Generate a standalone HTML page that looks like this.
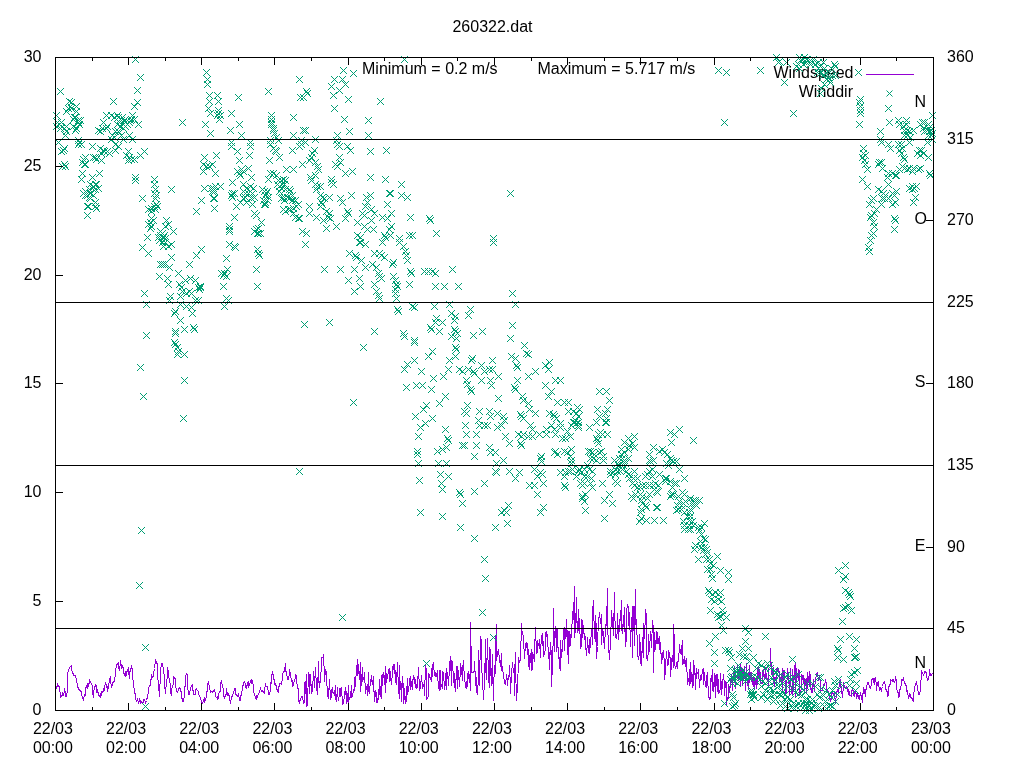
<!DOCTYPE html>
<html><head><meta charset="utf-8"><title>260322.dat</title>
<style>html,body{margin:0;padding:0;background:#fff;width:1024px;height:768px;overflow:hidden}</style></head>
<body>
<svg width="1024" height="768" viewBox="0 0 1024 768" style="position:absolute;left:0;top:0;will-change:transform">
<rect width="1024" height="768" fill="#fff"/>
<polyline fill="none" stroke="#9400D3" stroke-width="1" shape-rendering="crispEdges" stroke-linejoin="miter" points="55.5,687.5 56.5,687.5 56.5,688.5 57.5,684.5 57.5,683.5 58.5,686.5 59.5,686.5 59.5,690.5 60.5,693.5 60.5,697.5 61.5,695.5 62.5,695.5 62.5,692.5 63.5,694.5 64.5,691.5 64.5,688.5 65.5,694.5 65.5,696.5 66.5,696.5 67.5,690.5 67.5,675.5 68.5,669.5 68.5,670.5 69.5,667.5 70.5,666.5 70.5,666.5 71.5,665.5 71.5,670.5 72.5,671.5 73.5,675.5 73.5,674.5 74.5,675.5 75.5,675.5 75.5,677.5 76.5,678.5 76.5,679.5 77.5,686.5 78.5,688.5 78.5,689.5 79.5,690.5 79.5,689.5 80.5,690.5 81.5,692.5 81.5,692.5 82.5,698.5 82.5,697.5 83.5,699.5 84.5,694.5 84.5,696.5 85.5,694.5 85.5,688.5 86.5,686.5 87.5,688.5 87.5,683.5 88.5,685.5 89.5,681.5 89.5,679.5 90.5,682.5 90.5,682.5 91.5,683.5 92.5,686.5 92.5,692.5 93.5,697.5 93.5,693.5 94.5,687.5 95.5,685.5 95.5,684.5 96.5,686.5 96.5,692.5 97.5,690.5 98.5,694.5 98.5,695.5 99.5,695.5 100.5,697.5 100.5,693.5 101.5,695.5 101.5,691.5 102.5,692.5 103.5,690.5 103.5,688.5 104.5,690.5 104.5,687.5 105.5,682.5 106.5,687.5 106.5,684.5 107.5,687.5 107.5,691.5 108.5,686.5 109.5,679.5 109.5,680.5 110.5,676.5 110.5,680.5 111.5,686.5 112.5,684.5 112.5,683.5 113.5,681.5 114.5,681.5 114.5,680.5 115.5,673.5 115.5,670.5 116.5,665.5 117.5,663.5 117.5,663.5 118.5,662.5 118.5,667.5 119.5,670.5 120.5,662.5 120.5,660.5 121.5,667.5 121.5,668.5 122.5,666.5 123.5,668.5 123.5,672.5 124.5,674.5 125.5,671.5 125.5,676.5 126.5,675.5 126.5,672.5 127.5,670.5 128.5,667.5 128.5,670.5 129.5,678.5 129.5,671.5 130.5,671.5 131.5,665.5 131.5,665.5 132.5,671.5 132.5,676.5 133.5,682.5 134.5,693.5 134.5,692.5 135.5,694.5 135.5,698.5 136.5,701.5 137.5,700.5 137.5,698.5 138.5,703.5 139.5,699.5 139.5,699.5 140.5,701.5 140.5,703.5 141.5,701.5 142.5,702.5 142.5,702.5 143.5,702.5 143.5,699.5 144.5,699.5 145.5,702.5 145.5,702.5 146.5,700.5 146.5,700.5 147.5,696.5 148.5,691.5 148.5,688.5 149.5,685.5 150.5,685.5 150.5,680.5 151.5,678.5 151.5,674.5 152.5,677.5 153.5,676.5 153.5,674.5 154.5,668.5 154.5,668.5 155.5,659.5 156.5,662.5 156.5,662.5 157.5,664.5 157.5,674.5 158.5,684.5 159.5,696.5 159.5,690.5 160.5,678.5 160.5,671.5 161.5,663.5 162.5,663.5 162.5,664.5 163.5,669.5 164.5,678.5 164.5,684.5 165.5,693.5 165.5,690.5 166.5,683.5 167.5,675.5 167.5,667.5 168.5,672.5 168.5,675.5 169.5,679.5 170.5,686.5 170.5,691.5 171.5,695.5 171.5,690.5 172.5,685.5 173.5,684.5 173.5,676.5 174.5,678.5 175.5,678.5 175.5,686.5 176.5,689.5 176.5,691.5 177.5,692.5 178.5,689.5 178.5,688.5 179.5,688.5 179.5,687.5 180.5,689.5 181.5,693.5 181.5,698.5 182.5,698.5 182.5,701.5 183.5,701.5 184.5,694.5 184.5,687.5 185.5,685.5 185.5,676.5 186.5,673.5 187.5,674.5 187.5,684.5 188.5,694.5 189.5,694.5 189.5,693.5 190.5,688.5 190.5,688.5 191.5,685.5 192.5,684.5 192.5,688.5 193.5,692.5 193.5,694.5 194.5,694.5 195.5,694.5 195.5,689.5 196.5,688.5 196.5,689.5 197.5,690.5 198.5,691.5 198.5,693.5 199.5,696.5 200.5,697.5 200.5,697.5 201.5,702.5 201.5,704.5 202.5,703.5 203.5,700.5 203.5,699.5 204.5,702.5 204.5,697.5 205.5,699.5 206.5,696.5 206.5,691.5 207.5,691.5 207.5,684.5 208.5,682.5 209.5,686.5 209.5,686.5 210.5,692.5 210.5,690.5 211.5,691.5 212.5,691.5 212.5,692.5 213.5,690.5 214.5,689.5 214.5,690.5 215.5,693.5 215.5,696.5 216.5,697.5 217.5,696.5 217.5,699.5 218.5,697.5 218.5,693.5 219.5,692.5 220.5,690.5 220.5,683.5 221.5,680.5 221.5,680.5 222.5,686.5 223.5,689.5 223.5,694.5 224.5,698.5 225.5,694.5 225.5,695.5 226.5,694.5 226.5,688.5 227.5,695.5 228.5,695.5 228.5,693.5 229.5,696.5 229.5,699.5 230.5,702.5 231.5,697.5 231.5,696.5 232.5,696.5 232.5,694.5 233.5,693.5 234.5,688.5 234.5,690.5 235.5,688.5 235.5,693.5 236.5,695.5 237.5,695.5 237.5,696.5 238.5,694.5 239.5,699.5 239.5,700.5 240.5,700.5 240.5,696.5 241.5,694.5 242.5,687.5 242.5,686.5 243.5,684.5 243.5,682.5 244.5,681.5 245.5,684.5 245.5,686.5 246.5,688.5 246.5,686.5 247.5,683.5 248.5,687.5 248.5,681.5 249.5,685.5 250.5,680.5 250.5,681.5 251.5,683.5 251.5,679.5 252.5,681.5 253.5,686.5 253.5,691.5 254.5,694.5 254.5,694.5 255.5,697.5 256.5,695.5 256.5,699.5 257.5,695.5 257.5,695.5 258.5,694.5 259.5,691.5 259.5,691.5 260.5,688.5 260.5,688.5 261.5,691.5 262.5,691.5 262.5,690.5 263.5,692.5 264.5,693.5 264.5,690.5 265.5,683.5 265.5,685.5 266.5,686.5 267.5,686.5 267.5,689.5 268.5,690.5 268.5,694.5 269.5,694.5 270.5,690.5 270.5,682.5 271.5,683.5 271.5,676.5 272.5,671.5 273.5,677.5 273.5,678.5 274.5,680.5 274.5,684.5 275.5,683.5 276.5,687.5 276.5,687.5 277.5,691.5 278.5,692.5 278.5,686.5 279.5,686.5 279.5,683.5 280.5,683.5 281.5,684.5 281.5,683.5 282.5,678.5 282.5,674.5 283.5,671.5 284.5,671.5 284.5,670.5 285.5,663.5 285.5,670.5 286.5,672.5 287.5,678.5 287.5,679.5 288.5,679.5 289.5,673.5 289.5,669.5 290.5,673.5 290.5,673.5 291.5,681.5 292.5,680.5 292.5,686.5 293.5,685.5 293.5,682.5 294.5,681.5 295.5,677.5 295.5,674.5 296.5,676.5 296.5,682.5 297.5,685.5 298.5,691.5 298.5,699.5 299.5,703.5 299.5,700.5 300.5,700.5 301.5,696.5 301.5,696.5 302.5,696.5 303.5,703.5 303.5,701.5 304.5,702.5 304.5,683.5 305.5,681.5 306.5,706.5 306.5,674.5 307.5,705.5 307.5,703.5 308.5,672.5 309.5,676.5 309.5,693.5 310.5,678.5 310.5,674.5 311.5,693.5 312.5,681.5 312.5,691.5 313.5,671.5 314.5,679.5 314.5,687.5 315.5,667.5 315.5,669.5 316.5,686.5 317.5,694.5 317.5,694.5 318.5,661.5 318.5,677.5 319.5,687.5 320.5,675.5 320.5,682.5 321.5,661.5 321.5,657.5 322.5,657.5 323.5,658.5 323.5,654.5 324.5,677.5 324.5,681.5 325.5,669.5 326.5,673.5 326.5,676.5 327.5,695.5 328.5,697.5 328.5,697.5 329.5,679.5 329.5,680.5 330.5,699.5 331.5,689.5 331.5,697.5 332.5,687.5 332.5,691.5 333.5,693.5 334.5,692.5 334.5,695.5 335.5,685.5 335.5,698.5 336.5,701.5 337.5,687.5 337.5,693.5 338.5,700.5 339.5,693.5 339.5,688.5 340.5,688.5 340.5,696.5 341.5,687.5 342.5,704.5 342.5,702.5 343.5,699.5 343.5,703.5 344.5,695.5 345.5,687.5 345.5,694.5 346.5,691.5 346.5,703.5 347.5,700.5 348.5,685.5 348.5,702.5 349.5,697.5 349.5,697.5 350.5,697.5 351.5,685.5 351.5,697.5 352.5,696.5 353.5,689.5 353.5,691.5 354.5,689.5 354.5,677.5 355.5,686.5 356.5,665.5 356.5,671.5 357.5,675.5 357.5,659.5 358.5,668.5 359.5,679.5 359.5,679.5 360.5,662.5 360.5,691.5 361.5,681.5 362.5,667.5 362.5,681.5 363.5,678.5 364.5,676.5 364.5,672.5 365.5,693.5 365.5,684.5 366.5,688.5 367.5,691.5 367.5,695.5 368.5,672.5 368.5,689.5 369.5,693.5 370.5,679.5 370.5,684.5 371.5,675.5 371.5,678.5 372.5,684.5 373.5,676.5 373.5,681.5 374.5,701.5 374.5,691.5 375.5,690.5 376.5,702.5 376.5,692.5 377.5,702.5 378.5,694.5 378.5,699.5 379.5,679.5 379.5,692.5 380.5,696.5 381.5,675.5 381.5,698.5 382.5,674.5 382.5,683.5 383.5,672.5 384.5,681.5 384.5,684.5 385.5,666.5 385.5,692.5 386.5,674.5 387.5,676.5 387.5,678.5 388.5,670.5 389.5,668.5 389.5,681.5 390.5,679.5 390.5,671.5 391.5,684.5 392.5,671.5 392.5,666.5 393.5,669.5 393.5,664.5 394.5,664.5 395.5,682.5 395.5,670.5 396.5,684.5 396.5,682.5 397.5,662.5 398.5,691.5 398.5,693.5 399.5,665.5 399.5,698.5 400.5,681.5 401.5,684.5 401.5,701.5 402.5,676.5 403.5,688.5 403.5,703.5 404.5,697.5 404.5,688.5 405.5,703.5 406.5,700.5 406.5,693.5 407.5,678.5 407.5,694.5 408.5,689.5 409.5,682.5 409.5,678.5 410.5,689.5 410.5,676.5 411.5,684.5 412.5,689.5 412.5,682.5 413.5,675.5 414.5,683.5 414.5,677.5 415.5,687.5 415.5,679.5 416.5,688.5 417.5,687.5 417.5,682.5 418.5,669.5 418.5,667.5 419.5,689.5 420.5,687.5 420.5,684.5 421.5,678.5 421.5,675.5 422.5,688.5 423.5,684.5 423.5,685.5 424.5,688.5 424.5,695.5 425.5,665.5 426.5,670.5 426.5,699.5 427.5,697.5 428.5,696.5 428.5,673.5 429.5,674.5 429.5,676.5 430.5,678.5 431.5,681.5 431.5,668.5 432.5,676.5 432.5,665.5 433.5,663.5 434.5,675.5 434.5,673.5 435.5,676.5 435.5,672.5 436.5,675.5 437.5,670.5 437.5,675.5 438.5,686.5 439.5,690.5 439.5,670.5 440.5,670.5 440.5,689.5 441.5,684.5 442.5,688.5 442.5,671.5 443.5,677.5 443.5,672.5 444.5,689.5 445.5,673.5 445.5,681.5 446.5,689.5 446.5,668.5 447.5,675.5 448.5,681.5 448.5,685.5 449.5,667.5 449.5,665.5 450.5,656.5 451.5,685.5 451.5,660.5 452.5,661.5 453.5,679.5 453.5,678.5 454.5,687.5 454.5,673.5 455.5,691.5 456.5,666.5 456.5,670.5 457.5,688.5 457.5,666.5 458.5,673.5 459.5,686.5 459.5,684.5 460.5,669.5 460.5,663.5 461.5,669.5 462.5,680.5 462.5,669.5 463.5,660.5 464.5,680.5 464.5,675.5 465.5,687.5 465.5,687.5 466.5,688.5 467.5,673.5 467.5,686.5 468.5,671.5 468.5,673.5 469.5,675.5 470.5,690.5 470.5,622.5 471.5,668.5 471.5,672.5 472.5,672.5 473.5,671.5 473.5,672.5 474.5,671.5 474.5,661.5 475.5,679.5 476.5,692.5 476.5,677.5 477.5,694.5 478.5,676.5 478.5,650.5 479.5,681.5 479.5,685.5 480.5,636.5 481.5,641.5 481.5,670.5 482.5,675.5 482.5,679.5 483.5,699.5 484.5,680.5 484.5,688.5 485.5,639.5 485.5,666.5 486.5,679.5 487.5,638.5 487.5,640.5 488.5,678.5 489.5,687.5 489.5,647.5 490.5,675.5 490.5,649.5 491.5,685.5 492.5,681.5 492.5,654.5 493.5,700.5 493.5,689.5 494.5,665.5 495.5,673.5 495.5,648.5 496.5,624.5 496.5,660.5 497.5,653.5 498.5,649.5 498.5,651.5 499.5,658.5 499.5,659.5 500.5,666.5 501.5,653.5 501.5,670.5 502.5,666.5 503.5,676.5 503.5,677.5 504.5,680.5 504.5,683.5 505.5,684.5 506.5,676.5 506.5,674.5 507.5,681.5 507.5,685.5 508.5,675.5 509.5,675.5 509.5,665.5 510.5,687.5 510.5,693.5 511.5,673.5 512.5,662.5 512.5,663.5 513.5,672.5 514.5,664.5 514.5,695.5 515.5,652.5 515.5,665.5 516.5,700.5 517.5,685.5 517.5,688.5 518.5,659.5 518.5,657.5 519.5,662.5 520.5,658.5 520.5,659.5 521.5,623.5 521.5,628.5 522.5,633.5 523.5,636.5 523.5,639.5 524.5,658.5 524.5,657.5 525.5,644.5 526.5,642.5 526.5,647.5 527.5,643.5 528.5,666.5 528.5,649.5 529.5,659.5 529.5,669.5 530.5,657.5 531.5,649.5 531.5,670.5 532.5,669.5 532.5,652.5 533.5,655.5 534.5,661.5 534.5,645.5 535.5,633.5 535.5,627.5 536.5,653.5 537.5,651.5 537.5,640.5 538.5,645.5 539.5,646.5 539.5,639.5 540.5,657.5 540.5,650.5 541.5,637.5 542.5,633.5 542.5,645.5 543.5,641.5 543.5,656.5 544.5,653.5 545.5,648.5 545.5,632.5 546.5,631.5 546.5,636.5 547.5,634.5 548.5,658.5 548.5,647.5 549.5,655.5 549.5,669.5 550.5,642.5 551.5,657.5 551.5,686.5 552.5,663.5 553.5,629.5 553.5,608.5 554.5,651.5 554.5,651.5 555.5,626.5 556.5,632.5 556.5,651.5 557.5,629.5 557.5,646.5 558.5,648.5 559.5,668.5 559.5,657.5 560.5,670.5 560.5,640.5 561.5,657.5 562.5,641.5 562.5,651.5 563.5,628.5 564.5,650.5 564.5,627.5 565.5,638.5 565.5,636.5 566.5,619.5 567.5,654.5 567.5,630.5 568.5,632.5 568.5,663.5 569.5,631.5 570.5,636.5 570.5,645.5 571.5,626.5 571.5,637.5 572.5,611.5 573.5,619.5 573.5,619.5 574.5,586.5 574.5,637.5 575.5,628.5 576.5,597.5 576.5,613.5 577.5,632.5 578.5,609.5 578.5,630.5 579.5,628.5 579.5,618.5 580.5,648.5 581.5,645.5 581.5,619.5 582.5,637.5 582.5,620.5 583.5,628.5 584.5,639.5 584.5,633.5 585.5,638.5 585.5,644.5 586.5,655.5 587.5,640.5 587.5,637.5 588.5,652.5 589.5,639.5 589.5,653.5 590.5,642.5 590.5,644.5 591.5,629.5 592.5,644.5 592.5,612.5 593.5,600.5 593.5,604.5 594.5,636.5 595.5,641.5 595.5,615.5 596.5,630.5 596.5,658.5 597.5,646.5 598.5,617.5 598.5,620.5 599.5,615.5 599.5,612.5 600.5,623.5 601.5,614.5 601.5,644.5 602.5,628.5 603.5,633.5 603.5,640.5 604.5,645.5 604.5,648.5 605.5,626.5 606.5,622.5 606.5,625.5 607.5,588.5 607.5,623.5 608.5,645.5 609.5,659.5 609.5,653.5 610.5,646.5 610.5,644.5 611.5,610.5 612.5,622.5 612.5,620.5 613.5,635.5 614.5,592.5 614.5,617.5 615.5,624.5 615.5,637.5 616.5,638.5 617.5,629.5 617.5,613.5 618.5,635.5 618.5,639.5 619.5,624.5 620.5,614.5 620.5,620.5 621.5,600.5 621.5,628.5 622.5,633.5 623.5,615.5 623.5,621.5 624.5,631.5 624.5,607.5 625.5,646.5 626.5,637.5 626.5,611.5 627.5,604.5 628.5,608.5 628.5,621.5 629.5,629.5 629.5,612.5 630.5,646.5 631.5,618.5 631.5,627.5 632.5,606.5 632.5,657.5 633.5,606.5 634.5,645.5 634.5,624.5 635.5,589.5 635.5,624.5 636.5,619.5 637.5,649.5 637.5,655.5 638.5,658.5 639.5,653.5 639.5,634.5 640.5,663.5 640.5,642.5 641.5,665.5 642.5,637.5 642.5,648.5 643.5,657.5 643.5,623.5 644.5,638.5 645.5,611.5 645.5,609.5 646.5,616.5 646.5,657.5 647.5,659.5 648.5,650.5 648.5,634.5 649.5,650.5 649.5,651.5 650.5,631.5 651.5,638.5 651.5,647.5 652.5,620.5 653.5,629.5 653.5,672.5 654.5,632.5 654.5,643.5 655.5,649.5 656.5,631.5 656.5,643.5 657.5,632.5 657.5,643.5 658.5,638.5 659.5,649.5 659.5,636.5 660.5,653.5 660.5,642.5 661.5,663.5 662.5,657.5 662.5,653.5 663.5,651.5 664.5,664.5 664.5,679.5 665.5,670.5 665.5,666.5 666.5,651.5 667.5,665.5 667.5,661.5 668.5,664.5 668.5,650.5 669.5,653.5 670.5,661.5 670.5,676.5 671.5,663.5 671.5,661.5 672.5,655.5 673.5,667.5 673.5,624.5 674.5,643.5 674.5,662.5 675.5,668.5 676.5,665.5 676.5,662.5 677.5,668.5 678.5,654.5 678.5,661.5 679.5,645.5 679.5,644.5 680.5,653.5 681.5,654.5 681.5,649.5 682.5,640.5 682.5,664.5 683.5,662.5 684.5,656.5 684.5,661.5 685.5,666.5 685.5,661.5 686.5,658.5 687.5,684.5 687.5,684.5 688.5,678.5 689.5,685.5 689.5,669.5 690.5,683.5 690.5,662.5 691.5,681.5 692.5,674.5 692.5,687.5 693.5,660.5 693.5,685.5 694.5,665.5 695.5,679.5 695.5,689.5 696.5,668.5 696.5,671.5 697.5,673.5 698.5,674.5 698.5,669.5 699.5,687.5 699.5,685.5 700.5,676.5 701.5,674.5 701.5,679.5 702.5,669.5 703.5,668.5 703.5,684.5 704.5,672.5 704.5,676.5 705.5,685.5 706.5,687.5 706.5,678.5 707.5,672.5 707.5,675.5 708.5,696.5 709.5,698.5 709.5,699.5 710.5,697.5 710.5,678.5 711.5,680.5 712.5,669.5 712.5,690.5 713.5,691.5 714.5,673.5 714.5,686.5 715.5,675.5 715.5,697.5 716.5,674.5 717.5,674.5 717.5,691.5 718.5,679.5 718.5,693.5 719.5,692.5 720.5,687.5 720.5,673.5 721.5,688.5 721.5,694.5 722.5,683.5 723.5,674.5 723.5,678.5 724.5,681.5 724.5,695.5 725.5,681.5 726.5,682.5 726.5,704.5 727.5,697.5 728.5,698.5 728.5,684.5 729.5,689.5 729.5,692.5 730.5,684.5 731.5,674.5 731.5,675.5 732.5,690.5 732.5,683.5 733.5,672.5 734.5,682.5 734.5,666.5 735.5,688.5 735.5,675.5 736.5,677.5 737.5,677.5 737.5,664.5 738.5,680.5 738.5,669.5 739.5,668.5 740.5,686.5 740.5,663.5 741.5,669.5 742.5,685.5 742.5,668.5 743.5,669.5 743.5,678.5 744.5,666.5 745.5,690.5 745.5,690.5 746.5,663.5 746.5,675.5 747.5,685.5 748.5,672.5 748.5,689.5 749.5,676.5 749.5,665.5 750.5,678.5 751.5,681.5 751.5,672.5 752.5,682.5 753.5,686.5 753.5,677.5 754.5,677.5 754.5,688.5 755.5,682.5 756.5,677.5 756.5,688.5 757.5,667.5 757.5,684.5 758.5,667.5 759.5,679.5 759.5,669.5 760.5,675.5 760.5,683.5 761.5,683.5 762.5,683.5 762.5,670.5 763.5,676.5 763.5,669.5 764.5,678.5 765.5,676.5 765.5,667.5 766.5,678.5 767.5,681.5 767.5,678.5 768.5,685.5 768.5,668.5 769.5,667.5 770.5,666.5 770.5,648.5 771.5,674.5 771.5,674.5 772.5,670.5 773.5,683.5 773.5,667.5 774.5,686.5 774.5,678.5 775.5,677.5 776.5,684.5 776.5,670.5 777.5,668.5 778.5,672.5 778.5,668.5 779.5,673.5 779.5,682.5 780.5,680.5 781.5,673.5 781.5,683.5 782.5,668.5 782.5,691.5 783.5,670.5 784.5,673.5 784.5,670.5 785.5,689.5 785.5,693.5 786.5,692.5 787.5,668.5 787.5,678.5 788.5,677.5 788.5,672.5 789.5,694.5 790.5,668.5 790.5,681.5 791.5,691.5 792.5,695.5 792.5,669.5 793.5,680.5 793.5,691.5 794.5,668.5 795.5,662.5 795.5,696.5 796.5,668.5 796.5,678.5 797.5,675.5 798.5,679.5 798.5,669.5 799.5,670.5 799.5,694.5 800.5,690.5 801.5,689.5 801.5,674.5 802.5,675.5 803.5,683.5 803.5,675.5 804.5,681.5 804.5,693.5 805.5,679.5 806.5,678.5 806.5,693.5 807.5,685.5 807.5,672.5 808.5,679.5 809.5,686.5 809.5,671.5 810.5,677.5 810.5,687.5 811.5,692.5 812.5,684.5 812.5,692.5 813.5,681.5 813.5,679.5 814.5,690.5 815.5,678.5 815.5,681.5 816.5,673.5 817.5,672.5 817.5,673.5 818.5,680.5 818.5,678.5 819.5,676.5 820.5,683.5 820.5,691.5 821.5,690.5 821.5,690.5 822.5,690.5 823.5,684.5 823.5,684.5 824.5,683.5 824.5,685.5 825.5,680.5 826.5,683.5 826.5,687.5 827.5,691.5 828.5,691.5 828.5,693.5 829.5,694.5 829.5,697.5 830.5,700.5 831.5,698.5 831.5,693.5 832.5,693.5 832.5,691.5 833.5,694.5 834.5,693.5 834.5,697.5 835.5,699.5 835.5,702.5 836.5,693.5 837.5,689.5 837.5,691.5 838.5,692.5 838.5,692.5 839.5,682.5 840.5,679.5 840.5,683.5 841.5,689.5 842.5,697.5 842.5,697.5 843.5,684.5 843.5,682.5 844.5,687.5 845.5,687.5 845.5,688.5 846.5,686.5 846.5,687.5 847.5,689.5 848.5,694.5 848.5,689.5 849.5,692.5 849.5,695.5 850.5,695.5 851.5,696.5 851.5,690.5 852.5,689.5 853.5,691.5 853.5,694.5 854.5,696.5 854.5,691.5 855.5,691.5 856.5,695.5 856.5,698.5 857.5,694.5 857.5,692.5 858.5,697.5 859.5,699.5 859.5,697.5 860.5,693.5 860.5,692.5 861.5,697.5 862.5,702.5 862.5,694.5 863.5,692.5 863.5,687.5 864.5,691.5 865.5,696.5 865.5,690.5 866.5,688.5 867.5,682.5 867.5,683.5 868.5,682.5 868.5,682.5 869.5,687.5 870.5,688.5 870.5,688.5 871.5,684.5 871.5,680.5 872.5,678.5 873.5,678.5 873.5,680.5 874.5,684.5 874.5,678.5 875.5,677.5 876.5,686.5 876.5,690.5 877.5,682.5 878.5,681.5 878.5,685.5 879.5,688.5 879.5,690.5 880.5,688.5 881.5,691.5 881.5,689.5 882.5,686.5 882.5,686.5 883.5,682.5 884.5,681.5 884.5,682.5 885.5,685.5 885.5,688.5 886.5,690.5 887.5,692.5 887.5,696.5 888.5,695.5 888.5,688.5 889.5,684.5 890.5,684.5 890.5,679.5 891.5,680.5 892.5,679.5 892.5,681.5 893.5,679.5 893.5,681.5 894.5,682.5 895.5,679.5 895.5,676.5 896.5,681.5 896.5,688.5 897.5,691.5 898.5,693.5 898.5,697.5 899.5,695.5 899.5,689.5 900.5,689.5 901.5,682.5 901.5,679.5 902.5,680.5 903.5,677.5 903.5,677.5 904.5,683.5 904.5,682.5 905.5,684.5 906.5,686.5 906.5,691.5 907.5,690.5 907.5,692.5 908.5,697.5 909.5,695.5 909.5,693.5 910.5,695.5 910.5,697.5 911.5,697.5 912.5,699.5 912.5,699.5 913.5,701.5 913.5,696.5 914.5,687.5 915.5,684.5 915.5,684.5 916.5,682.5 917.5,687.5 917.5,690.5 918.5,691.5 918.5,694.5 919.5,694.5 920.5,689.5 920.5,686.5 921.5,674.5 921.5,670.5 922.5,673.5 923.5,674.5 923.5,675.5 924.5,672.5 924.5,671.5 925.5,671.5 926.5,673.5 926.5,675.5 927.5,680.5 928.5,679.5 928.5,677.5 929.5,674.5 929.5,669.5 930.5,675.5 931.5,675.5 931.5,674.5 932.5,673.5 932.5,673.5 933.5,674.5"/>
<g font-family="Liberation Sans, sans-serif" font-size="16" fill="#000"><text x="853.5" y="77.8" text-anchor="end">Windspeed</text><text x="853" y="96.8" text-anchor="end">Winddir</text></g>
<defs><path id="x" d="M-3 -3h1v1h-1zM-3 3h1v1h-1zM-2 -2h1v1h-1zM-2 2h1v1h-1zM-1 -1h1v1h-1zM-1 1h1v1h-1zM0 0h1v1h-1zM1 1h1v1h-1zM1 -1h1v1h-1zM2 2h1v1h-1zM2 -2h1v1h-1zM3 3h1v1h-1zM3 -3h1v1h-1z"/></defs>
<g fill="#009E73" shape-rendering="crispEdges">
<use href="#x" x="60" y="91"/>
<use href="#x" x="135" y="59"/>
<use href="#x" x="140" y="77"/>
<use href="#x" x="137" y="90"/>
<use href="#x" x="189" y="264"/>
<use href="#x" x="196" y="255"/>
<use href="#x" x="201" y="249"/>
<use href="#x" x="229" y="244"/>
<use href="#x" x="234" y="246"/>
<use href="#x" x="235" y="247"/>
<use href="#x" x="226" y="258"/>
<use href="#x" x="257" y="249"/>
<use href="#x" x="258" y="253"/>
<use href="#x" x="259" y="255"/>
<use href="#x" x="256" y="269"/>
<use href="#x" x="257" y="286"/>
<use href="#x" x="178" y="273"/>
<use href="#x" x="185" y="280"/>
<use href="#x" x="190" y="278"/>
<use href="#x" x="195" y="280"/>
<use href="#x" x="179" y="284"/>
<use href="#x" x="181" y="287"/>
<use href="#x" x="182" y="291"/>
<use href="#x" x="186" y="293"/>
<use href="#x" x="189" y="291"/>
<use href="#x" x="191" y="293"/>
<use href="#x" x="198" y="287"/>
<use href="#x" x="200" y="287"/>
<use href="#x" x="200" y="286"/>
<use href="#x" x="199" y="289"/>
<use href="#x" x="221" y="273"/>
<use href="#x" x="223" y="275"/>
<use href="#x" x="224" y="273"/>
<use href="#x" x="226" y="276"/>
<use href="#x" x="227" y="269"/>
<use href="#x" x="223" y="286"/>
<use href="#x" x="144" y="293"/>
<use href="#x" x="170" y="296"/>
<use href="#x" x="169" y="300"/>
<use href="#x" x="180" y="296"/>
<use href="#x" x="198" y="300"/>
<use href="#x" x="195" y="300"/>
<use href="#x" x="226" y="298"/>
<use href="#x" x="228" y="300"/>
<use href="#x" x="146" y="304"/>
<use href="#x" x="224" y="306"/>
<use href="#x" x="175" y="311"/>
<use href="#x" x="174" y="313"/>
<use href="#x" x="180" y="304"/>
<use href="#x" x="186" y="306"/>
<use href="#x" x="191" y="307"/>
<use href="#x" x="192" y="313"/>
<use href="#x" x="180" y="320"/>
<use href="#x" x="184" y="329"/>
<use href="#x" x="193" y="327"/>
<use href="#x" x="194" y="329"/>
<use href="#x" x="175" y="331"/>
<use href="#x" x="175" y="333"/>
<use href="#x" x="146" y="335"/>
<use href="#x" x="174" y="342"/>
<use href="#x" x="175" y="344"/>
<use href="#x" x="177" y="347"/>
<use href="#x" x="178" y="351"/>
<use href="#x" x="177" y="354"/>
<use href="#x" x="184" y="354"/>
<use href="#x" x="140" y="367"/>
<use href="#x" x="184" y="380"/>
<use href="#x" x="143" y="396"/>
<use href="#x" x="183" y="418"/>
<use href="#x" x="141" y="530"/>
<use href="#x" x="139" y="585"/>
<use href="#x" x="299" y="471"/>
<use href="#x" x="145" y="647"/>
<use href="#x" x="145" y="706"/>
<use href="#x" x="306" y="91"/>
<use href="#x" x="307" y="93"/>
<use href="#x" x="305" y="130"/>
<use href="#x" x="305" y="142"/>
<use href="#x" x="315" y="139"/>
<use href="#x" x="314" y="150"/>
<use href="#x" x="312" y="153"/>
<use href="#x" x="311" y="157"/>
<use href="#x" x="309" y="160"/>
<use href="#x" x="315" y="162"/>
<use href="#x" x="317" y="166"/>
<use href="#x" x="318" y="169"/>
<use href="#x" x="315" y="175"/>
<use href="#x" x="310" y="177"/>
<use href="#x" x="311" y="180"/>
<use href="#x" x="315" y="184"/>
<use href="#x" x="317" y="186"/>
<use href="#x" x="320" y="186"/>
<use href="#x" x="316" y="189"/>
<use href="#x" x="320" y="195"/>
<use href="#x" x="322" y="197"/>
<use href="#x" x="324" y="198"/>
<use href="#x" x="329" y="197"/>
<use href="#x" x="321" y="202"/>
<use href="#x" x="322" y="204"/>
<use href="#x" x="320" y="206"/>
<use href="#x" x="309" y="206"/>
<use href="#x" x="309" y="213"/>
<use href="#x" x="316" y="217"/>
<use href="#x" x="326" y="211"/>
<use href="#x" x="329" y="213"/>
<use href="#x" x="328" y="217"/>
<use href="#x" x="330" y="218"/>
<use href="#x" x="323" y="220"/>
<use href="#x" x="326" y="228"/>
<use href="#x" x="336" y="226"/>
<use href="#x" x="306" y="233"/>
<use href="#x" x="404" y="59"/>
<use href="#x" x="343" y="70"/>
<use href="#x" x="334" y="79"/>
<use href="#x" x="342" y="79"/>
<use href="#x" x="353" y="73"/>
<use href="#x" x="331" y="86"/>
<use href="#x" x="345" y="84"/>
<use href="#x" x="339" y="90"/>
<use href="#x" x="333" y="95"/>
<use href="#x" x="348" y="99"/>
<use href="#x" x="334" y="108"/>
<use href="#x" x="380" y="101"/>
<use href="#x" x="344" y="119"/>
<use href="#x" x="368" y="120"/>
<use href="#x" x="349" y="131"/>
<use href="#x" x="337" y="135"/>
<use href="#x" x="368" y="135"/>
<use href="#x" x="336" y="140"/>
<use href="#x" x="337" y="144"/>
<use href="#x" x="339" y="146"/>
<use href="#x" x="347" y="146"/>
<use href="#x" x="350" y="150"/>
<use href="#x" x="370" y="151"/>
<use href="#x" x="386" y="150"/>
<use href="#x" x="339" y="157"/>
<use href="#x" x="340" y="162"/>
<use href="#x" x="335" y="164"/>
<use href="#x" x="337" y="166"/>
<use href="#x" x="352" y="171"/>
<use href="#x" x="345" y="173"/>
<use href="#x" x="370" y="177"/>
<use href="#x" x="385" y="179"/>
<use href="#x" x="331" y="179"/>
<use href="#x" x="331" y="182"/>
<use href="#x" x="333" y="184"/>
<use href="#x" x="401" y="184"/>
<use href="#x" x="390" y="193"/>
<use href="#x" x="389" y="193"/>
<use href="#x" x="401" y="195"/>
<use href="#x" x="407" y="197"/>
<use href="#x" x="510" y="193"/>
<use href="#x" x="351" y="195"/>
<use href="#x" x="340" y="198"/>
<use href="#x" x="342" y="202"/>
<use href="#x" x="370" y="195"/>
<use href="#x" x="366" y="197"/>
<use href="#x" x="367" y="202"/>
<use href="#x" x="387" y="204"/>
<use href="#x" x="365" y="206"/>
<use href="#x" x="371" y="209"/>
<use href="#x" x="347" y="211"/>
<use href="#x" x="348" y="213"/>
<use href="#x" x="345" y="218"/>
<use href="#x" x="362" y="213"/>
<use href="#x" x="364" y="215"/>
<use href="#x" x="374" y="213"/>
<use href="#x" x="391" y="213"/>
<use href="#x" x="410" y="217"/>
<use href="#x" x="382" y="217"/>
<use href="#x" x="387" y="218"/>
<use href="#x" x="429" y="218"/>
<use href="#x" x="430" y="220"/>
<use href="#x" x="357" y="222"/>
<use href="#x" x="371" y="220"/>
<use href="#x" x="391" y="226"/>
<use href="#x" x="364" y="226"/>
<use href="#x" x="367" y="229"/>
<use href="#x" x="373" y="229"/>
<use href="#x" x="389" y="229"/>
<use href="#x" x="436" y="233"/>
<use href="#x" x="357" y="235"/>
<use href="#x" x="360" y="237"/>
<use href="#x" x="384" y="235"/>
<use href="#x" x="385" y="237"/>
<use href="#x" x="390" y="235"/>
<use href="#x" x="399" y="238"/>
<use href="#x" x="409" y="235"/>
<use href="#x" x="412" y="235"/>
<use href="#x" x="493" y="238"/>
<use href="#x" x="305" y="244"/>
<use href="#x" x="359" y="242"/>
<use href="#x" x="365" y="244"/>
<use href="#x" x="360" y="242"/>
<use href="#x" x="382" y="242"/>
<use href="#x" x="399" y="242"/>
<use href="#x" x="403" y="246"/>
<use href="#x" x="405" y="251"/>
<use href="#x" x="406" y="255"/>
<use href="#x" x="407" y="260"/>
<use href="#x" x="349" y="253"/>
<use href="#x" x="355" y="255"/>
<use href="#x" x="356" y="257"/>
<use href="#x" x="361" y="260"/>
<use href="#x" x="374" y="253"/>
<use href="#x" x="379" y="253"/>
<use href="#x" x="381" y="255"/>
<use href="#x" x="384" y="257"/>
<use href="#x" x="392" y="264"/>
<use href="#x" x="393" y="262"/>
<use href="#x" x="372" y="264"/>
<use href="#x" x="376" y="267"/>
<use href="#x" x="365" y="267"/>
<use href="#x" x="354" y="269"/>
<use href="#x" x="340" y="269"/>
<use href="#x" x="324" y="269"/>
<use href="#x" x="378" y="273"/>
<use href="#x" x="379" y="276"/>
<use href="#x" x="381" y="278"/>
<use href="#x" x="359" y="278"/>
<use href="#x" x="348" y="280"/>
<use href="#x" x="360" y="286"/>
<use href="#x" x="354" y="291"/>
<use href="#x" x="374" y="284"/>
<use href="#x" x="376" y="291"/>
<use href="#x" x="378" y="295"/>
<use href="#x" x="379" y="298"/>
<use href="#x" x="393" y="276"/>
<use href="#x" x="395" y="280"/>
<use href="#x" x="396" y="284"/>
<use href="#x" x="397" y="286"/>
<use href="#x" x="395" y="289"/>
<use href="#x" x="395" y="293"/>
<use href="#x" x="396" y="298"/>
<use href="#x" x="410" y="271"/>
<use href="#x" x="411" y="273"/>
<use href="#x" x="409" y="284"/>
<use href="#x" x="424" y="271"/>
<use href="#x" x="428" y="271"/>
<use href="#x" x="432" y="271"/>
<use href="#x" x="435" y="273"/>
<use href="#x" x="452" y="269"/>
<use href="#x" x="435" y="286"/>
<use href="#x" x="444" y="286"/>
<use href="#x" x="458" y="286"/>
<use href="#x" x="493" y="242"/>
<use href="#x" x="512" y="293"/>
<use href="#x" x="515" y="304"/>
<use href="#x" x="397" y="309"/>
<use href="#x" x="398" y="311"/>
<use href="#x" x="412" y="306"/>
<use href="#x" x="414" y="307"/>
<use href="#x" x="434" y="306"/>
<use href="#x" x="449" y="304"/>
<use href="#x" x="451" y="313"/>
<use href="#x" x="470" y="309"/>
<use href="#x" x="468" y="315"/>
<use href="#x" x="455" y="316"/>
<use href="#x" x="454" y="320"/>
<use href="#x" x="436" y="318"/>
<use href="#x" x="435" y="322"/>
<use href="#x" x="442" y="322"/>
<use href="#x" x="430" y="327"/>
<use href="#x" x="431" y="329"/>
<use href="#x" x="439" y="331"/>
<use href="#x" x="454" y="329"/>
<use href="#x" x="455" y="331"/>
<use href="#x" x="457" y="333"/>
<use href="#x" x="451" y="336"/>
<use href="#x" x="456" y="338"/>
<use href="#x" x="473" y="335"/>
<use href="#x" x="482" y="331"/>
<use href="#x" x="512" y="325"/>
<use href="#x" x="510" y="338"/>
<use href="#x" x="524" y="345"/>
<use href="#x" x="329" y="322"/>
<use href="#x" x="304" y="324"/>
<use href="#x" x="374" y="331"/>
<use href="#x" x="363" y="347"/>
<use href="#x" x="403" y="333"/>
<use href="#x" x="404" y="336"/>
<use href="#x" x="414" y="340"/>
<use href="#x" x="414" y="342"/>
<use href="#x" x="455" y="347"/>
<use href="#x" x="456" y="349"/>
<use href="#x" x="432" y="351"/>
<use href="#x" x="428" y="356"/>
<use href="#x" x="455" y="356"/>
<use href="#x" x="449" y="360"/>
<use href="#x" x="414" y="360"/>
<use href="#x" x="407" y="364"/>
<use href="#x" x="404" y="369"/>
<use href="#x" x="421" y="371"/>
<use href="#x" x="448" y="369"/>
<use href="#x" x="459" y="369"/>
<use href="#x" x="462" y="371"/>
<use href="#x" x="468" y="369"/>
<use href="#x" x="471" y="360"/>
<use href="#x" x="472" y="358"/>
<use href="#x" x="473" y="371"/>
<use href="#x" x="474" y="373"/>
<use href="#x" x="481" y="365"/>
<use href="#x" x="484" y="371"/>
<use href="#x" x="489" y="369"/>
<use href="#x" x="492" y="360"/>
<use href="#x" x="492" y="369"/>
<use href="#x" x="511" y="356"/>
<use href="#x" x="515" y="358"/>
<use href="#x" x="516" y="365"/>
<use href="#x" x="517" y="367"/>
<use href="#x" x="526" y="353"/>
<use href="#x" x="528" y="354"/>
<use href="#x" x="549" y="362"/>
<use href="#x" x="545" y="365"/>
<use href="#x" x="548" y="369"/>
<use href="#x" x="535" y="371"/>
<use href="#x" x="528" y="376"/>
<use href="#x" x="433" y="378"/>
<use href="#x" x="443" y="376"/>
<use href="#x" x="498" y="376"/>
<use href="#x" x="481" y="380"/>
<use href="#x" x="490" y="380"/>
<use href="#x" x="491" y="385"/>
<use href="#x" x="466" y="380"/>
<use href="#x" x="467" y="384"/>
<use href="#x" x="470" y="389"/>
<use href="#x" x="471" y="391"/>
<use href="#x" x="406" y="387"/>
<use href="#x" x="416" y="385"/>
<use href="#x" x="422" y="385"/>
<use href="#x" x="431" y="389"/>
<use href="#x" x="517" y="380"/>
<use href="#x" x="514" y="387"/>
<use href="#x" x="515" y="389"/>
<use href="#x" x="545" y="385"/>
<use href="#x" x="555" y="380"/>
<use href="#x" x="551" y="391"/>
<use href="#x" x="548" y="396"/>
<use href="#x" x="353" y="402"/>
<use href="#x" x="445" y="396"/>
<use href="#x" x="439" y="403"/>
<use href="#x" x="498" y="398"/>
<use href="#x" x="522" y="396"/>
<use href="#x" x="523" y="400"/>
<use href="#x" x="528" y="403"/>
<use href="#x" x="467" y="405"/>
<use href="#x" x="464" y="411"/>
<use href="#x" x="466" y="413"/>
<use href="#x" x="423" y="409"/>
<use href="#x" x="426" y="405"/>
<use href="#x" x="415" y="416"/>
<use href="#x" x="432" y="418"/>
<use href="#x" x="425" y="423"/>
<use href="#x" x="420" y="427"/>
<use href="#x" x="445" y="429"/>
<use href="#x" x="479" y="411"/>
<use href="#x" x="489" y="411"/>
<use href="#x" x="497" y="413"/>
<use href="#x" x="503" y="416"/>
<use href="#x" x="504" y="420"/>
<use href="#x" x="490" y="416"/>
<use href="#x" x="478" y="420"/>
<use href="#x" x="479" y="425"/>
<use href="#x" x="484" y="425"/>
<use href="#x" x="487" y="425"/>
<use href="#x" x="465" y="425"/>
<use href="#x" x="497" y="427"/>
<use href="#x" x="501" y="425"/>
<use href="#x" x="520" y="414"/>
<use href="#x" x="521" y="416"/>
<use href="#x" x="523" y="418"/>
<use href="#x" x="529" y="409"/>
<use href="#x" x="535" y="413"/>
<use href="#x" x="549" y="413"/>
<use href="#x" x="553" y="414"/>
<use href="#x" x="554" y="416"/>
<use href="#x" x="556" y="418"/>
<use href="#x" x="530" y="425"/>
<use href="#x" x="532" y="429"/>
<use href="#x" x="546" y="429"/>
<use href="#x" x="551" y="425"/>
<use href="#x" x="554" y="429"/>
<use href="#x" x="557" y="402"/>
<use href="#x" x="418" y="436"/>
<use href="#x" x="447" y="438"/>
<use href="#x" x="448" y="440"/>
<use href="#x" x="466" y="434"/>
<use href="#x" x="476" y="434"/>
<use href="#x" x="505" y="436"/>
<use href="#x" x="518" y="434"/>
<use href="#x" x="521" y="436"/>
<use href="#x" x="523" y="434"/>
<use href="#x" x="528" y="436"/>
<use href="#x" x="532" y="436"/>
<use href="#x" x="539" y="434"/>
<use href="#x" x="546" y="434"/>
<use href="#x" x="555" y="434"/>
<use href="#x" x="462" y="445"/>
<use href="#x" x="464" y="445"/>
<use href="#x" x="476" y="445"/>
<use href="#x" x="489" y="447"/>
<use href="#x" x="509" y="443"/>
<use href="#x" x="520" y="443"/>
<use href="#x" x="521" y="445"/>
<use href="#x" x="417" y="451"/>
<use href="#x" x="417" y="454"/>
<use href="#x" x="437" y="451"/>
<use href="#x" x="446" y="447"/>
<use href="#x" x="442" y="449"/>
<use href="#x" x="490" y="452"/>
<use href="#x" x="495" y="452"/>
<use href="#x" x="474" y="456"/>
<use href="#x" x="503" y="460"/>
<use href="#x" x="541" y="456"/>
<use href="#x" x="540" y="458"/>
<use href="#x" x="541" y="461"/>
<use href="#x" x="555" y="451"/>
<use href="#x" x="557" y="454"/>
<use href="#x" x="554" y="452"/>
<use href="#x" x="418" y="463"/>
<use href="#x" x="438" y="463"/>
<use href="#x" x="446" y="463"/>
<use href="#x" x="496" y="463"/>
<use href="#x" x="534" y="469"/>
<use href="#x" x="440" y="474"/>
<use href="#x" x="448" y="476"/>
<use href="#x" x="495" y="471"/>
<use href="#x" x="496" y="472"/>
<use href="#x" x="509" y="471"/>
<use href="#x" x="519" y="472"/>
<use href="#x" x="515" y="478"/>
<use href="#x" x="540" y="472"/>
<use href="#x" x="542" y="474"/>
<use href="#x" x="537" y="476"/>
<use href="#x" x="419" y="480"/>
<use href="#x" x="441" y="483"/>
<use href="#x" x="484" y="483"/>
<use href="#x" x="529" y="485"/>
<use href="#x" x="534" y="485"/>
<use href="#x" x="543" y="483"/>
<use href="#x" x="442" y="489"/>
<use href="#x" x="474" y="491"/>
<use href="#x" x="459" y="492"/>
<use href="#x" x="460" y="494"/>
<use href="#x" x="537" y="494"/>
<use href="#x" x="462" y="503"/>
<use href="#x" x="508" y="505"/>
<use href="#x" x="543" y="507"/>
<use href="#x" x="420" y="512"/>
<use href="#x" x="504" y="510"/>
<use href="#x" x="506" y="512"/>
<use href="#x" x="501" y="512"/>
<use href="#x" x="540" y="512"/>
<use href="#x" x="442" y="516"/>
<use href="#x" x="507" y="523"/>
<use href="#x" x="460" y="527"/>
<use href="#x" x="495" y="527"/>
<use href="#x" x="474" y="538"/>
<use href="#x" x="484" y="559"/>
<use href="#x" x="485" y="578"/>
<use href="#x" x="482" y="612"/>
<use href="#x" x="342" y="617"/>
<use href="#x" x="426" y="663"/>
<use href="#x" x="493" y="637"/>
<use href="#x" x="718" y="70"/>
<use href="#x" x="726" y="72"/>
<use href="#x" x="760" y="70"/>
<use href="#x" x="724" y="122"/>
<use href="#x" x="560" y="380"/>
<use href="#x" x="564" y="402"/>
<use href="#x" x="568" y="402"/>
<use href="#x" x="568" y="411"/>
<use href="#x" x="573" y="411"/>
<use href="#x" x="577" y="407"/>
<use href="#x" x="579" y="409"/>
<use href="#x" x="576" y="413"/>
<use href="#x" x="578" y="416"/>
<use href="#x" x="575" y="420"/>
<use href="#x" x="573" y="422"/>
<use href="#x" x="574" y="422"/>
<use href="#x" x="576" y="423"/>
<use href="#x" x="578" y="422"/>
<use href="#x" x="578" y="425"/>
<use href="#x" x="578" y="427"/>
<use href="#x" x="571" y="425"/>
<use href="#x" x="560" y="423"/>
<use href="#x" x="560" y="427"/>
<use href="#x" x="567" y="431"/>
<use href="#x" x="570" y="436"/>
<use href="#x" x="565" y="438"/>
<use href="#x" x="562" y="438"/>
<use href="#x" x="564" y="451"/>
<use href="#x" x="571" y="449"/>
<use href="#x" x="567" y="452"/>
<use href="#x" x="570" y="456"/>
<use href="#x" x="571" y="460"/>
<use href="#x" x="571" y="463"/>
<use href="#x" x="599" y="391"/>
<use href="#x" x="606" y="391"/>
<use href="#x" x="609" y="400"/>
<use href="#x" x="597" y="409"/>
<use href="#x" x="607" y="409"/>
<use href="#x" x="605" y="413"/>
<use href="#x" x="599" y="416"/>
<use href="#x" x="606" y="418"/>
<use href="#x" x="596" y="422"/>
<use href="#x" x="605" y="422"/>
<use href="#x" x="606" y="422"/>
<use href="#x" x="589" y="427"/>
<use href="#x" x="600" y="432"/>
<use href="#x" x="602" y="434"/>
<use href="#x" x="598" y="434"/>
<use href="#x" x="607" y="434"/>
<use href="#x" x="596" y="438"/>
<use href="#x" x="597" y="440"/>
<use href="#x" x="598" y="443"/>
<use href="#x" x="588" y="451"/>
<use href="#x" x="590" y="451"/>
<use href="#x" x="592" y="452"/>
<use href="#x" x="594" y="454"/>
<use href="#x" x="593" y="458"/>
<use href="#x" x="599" y="452"/>
<use href="#x" x="601" y="451"/>
<use href="#x" x="603" y="456"/>
<use href="#x" x="603" y="460"/>
<use href="#x" x="596" y="460"/>
<use href="#x" x="590" y="458"/>
<use href="#x" x="560" y="472"/>
<use href="#x" x="565" y="472"/>
<use href="#x" x="568" y="471"/>
<use href="#x" x="570" y="471"/>
<use href="#x" x="572" y="469"/>
<use href="#x" x="564" y="476"/>
<use href="#x" x="579" y="469"/>
<use href="#x" x="578" y="471"/>
<use href="#x" x="581" y="472"/>
<use href="#x" x="584" y="469"/>
<use href="#x" x="587" y="465"/>
<use href="#x" x="589" y="469"/>
<use href="#x" x="592" y="471"/>
<use href="#x" x="584" y="476"/>
<use href="#x" x="587" y="476"/>
<use href="#x" x="591" y="478"/>
<use href="#x" x="576" y="476"/>
<use href="#x" x="634" y="436"/>
<use href="#x" x="628" y="438"/>
<use href="#x" x="624" y="442"/>
<use href="#x" x="632" y="443"/>
<use href="#x" x="629" y="445"/>
<use href="#x" x="634" y="447"/>
<use href="#x" x="621" y="449"/>
<use href="#x" x="628" y="449"/>
<use href="#x" x="624" y="452"/>
<use href="#x" x="621" y="454"/>
<use href="#x" x="619" y="458"/>
<use href="#x" x="614" y="460"/>
<use href="#x" x="622" y="458"/>
<use href="#x" x="624" y="460"/>
<use href="#x" x="625" y="463"/>
<use href="#x" x="628" y="458"/>
<use href="#x" x="617" y="463"/>
<use href="#x" x="618" y="465"/>
<use href="#x" x="621" y="465"/>
<use href="#x" x="623" y="465"/>
<use href="#x" x="622" y="469"/>
<use href="#x" x="615" y="469"/>
<use href="#x" x="610" y="471"/>
<use href="#x" x="613" y="472"/>
<use href="#x" x="615" y="474"/>
<use href="#x" x="610" y="474"/>
<use href="#x" x="617" y="471"/>
<use href="#x" x="620" y="471"/>
<use href="#x" x="626" y="471"/>
<use href="#x" x="628" y="474"/>
<use href="#x" x="634" y="471"/>
<use href="#x" x="633" y="478"/>
<use href="#x" x="629" y="478"/>
<use href="#x" x="637" y="478"/>
<use href="#x" x="670" y="432"/>
<use href="#x" x="679" y="429"/>
<use href="#x" x="674" y="434"/>
<use href="#x" x="671" y="442"/>
<use href="#x" x="653" y="447"/>
<use href="#x" x="662" y="449"/>
<use href="#x" x="664" y="452"/>
<use href="#x" x="659" y="451"/>
<use href="#x" x="649" y="454"/>
<use href="#x" x="667" y="454"/>
<use href="#x" x="649" y="460"/>
<use href="#x" x="653" y="460"/>
<use href="#x" x="650" y="461"/>
<use href="#x" x="670" y="458"/>
<use href="#x" x="671" y="460"/>
<use href="#x" x="673" y="461"/>
<use href="#x" x="676" y="461"/>
<use href="#x" x="666" y="463"/>
<use href="#x" x="668" y="465"/>
<use href="#x" x="679" y="469"/>
<use href="#x" x="652" y="469"/>
<use href="#x" x="649" y="471"/>
<use href="#x" x="647" y="474"/>
<use href="#x" x="645" y="476"/>
<use href="#x" x="652" y="476"/>
<use href="#x" x="659" y="474"/>
<use href="#x" x="665" y="478"/>
<use href="#x" x="666" y="478"/>
<use href="#x" x="684" y="478"/>
<use href="#x" x="693" y="440"/>
<use href="#x" x="564" y="485"/>
<use href="#x" x="565" y="487"/>
<use href="#x" x="580" y="483"/>
<use href="#x" x="582" y="485"/>
<use href="#x" x="584" y="483"/>
<use href="#x" x="590" y="483"/>
<use href="#x" x="592" y="487"/>
<use href="#x" x="602" y="483"/>
<use href="#x" x="615" y="481"/>
<use href="#x" x="617" y="483"/>
<use href="#x" x="582" y="496"/>
<use href="#x" x="585" y="494"/>
<use href="#x" x="582" y="498"/>
<use href="#x" x="584" y="501"/>
<use href="#x" x="585" y="510"/>
<use href="#x" x="609" y="494"/>
<use href="#x" x="604" y="500"/>
<use href="#x" x="612" y="503"/>
<use href="#x" x="604" y="518"/>
<use href="#x" x="632" y="483"/>
<use href="#x" x="634" y="485"/>
<use href="#x" x="637" y="487"/>
<use href="#x" x="640" y="487"/>
<use href="#x" x="642" y="485"/>
<use href="#x" x="645" y="485"/>
<use href="#x" x="649" y="485"/>
<use href="#x" x="653" y="485"/>
<use href="#x" x="655" y="483"/>
<use href="#x" x="658" y="485"/>
<use href="#x" x="654" y="489"/>
<use href="#x" x="656" y="491"/>
<use href="#x" x="657" y="492"/>
<use href="#x" x="649" y="494"/>
<use href="#x" x="647" y="498"/>
<use href="#x" x="642" y="496"/>
<use href="#x" x="640" y="494"/>
<use href="#x" x="635" y="494"/>
<use href="#x" x="631" y="496"/>
<use href="#x" x="633" y="498"/>
<use href="#x" x="641" y="500"/>
<use href="#x" x="642" y="503"/>
<use href="#x" x="645" y="505"/>
<use href="#x" x="646" y="507"/>
<use href="#x" x="641" y="509"/>
<use href="#x" x="640" y="512"/>
<use href="#x" x="656" y="507"/>
<use href="#x" x="657" y="507"/>
<use href="#x" x="639" y="521"/>
<use href="#x" x="641" y="518"/>
<use href="#x" x="646" y="520"/>
<use href="#x" x="654" y="520"/>
<use href="#x" x="663" y="520"/>
<use href="#x" x="665" y="481"/>
<use href="#x" x="670" y="481"/>
<use href="#x" x="674" y="483"/>
<use href="#x" x="676" y="483"/>
<use href="#x" x="672" y="487"/>
<use href="#x" x="671" y="494"/>
<use href="#x" x="670" y="496"/>
<use href="#x" x="673" y="494"/>
<use href="#x" x="678" y="496"/>
<use href="#x" x="682" y="492"/>
<use href="#x" x="684" y="494"/>
<use href="#x" x="679" y="501"/>
<use href="#x" x="677" y="505"/>
<use href="#x" x="681" y="505"/>
<use href="#x" x="683" y="503"/>
<use href="#x" x="685" y="501"/>
<use href="#x" x="678" y="509"/>
<use href="#x" x="676" y="510"/>
<use href="#x" x="681" y="509"/>
<use href="#x" x="684" y="512"/>
<use href="#x" x="687" y="516"/>
<use href="#x" x="683" y="521"/>
<use href="#x" x="684" y="525"/>
<use href="#x" x="684" y="529"/>
<use href="#x" x="690" y="498"/>
<use href="#x" x="693" y="500"/>
<use href="#x" x="695" y="500"/>
<use href="#x" x="699" y="500"/>
<use href="#x" x="692" y="503"/>
<use href="#x" x="694" y="503"/>
<use href="#x" x="696" y="505"/>
<use href="#x" x="690" y="509"/>
<use href="#x" x="689" y="512"/>
<use href="#x" x="690" y="516"/>
<use href="#x" x="689" y="520"/>
<use href="#x" x="692" y="521"/>
<use href="#x" x="689" y="525"/>
<use href="#x" x="693" y="525"/>
<use href="#x" x="690" y="529"/>
<use href="#x" x="688" y="529"/>
<use href="#x" x="704" y="523"/>
<use href="#x" x="701" y="527"/>
<use href="#x" x="698" y="527"/>
<use href="#x" x="699" y="530"/>
<use href="#x" x="701" y="534"/>
<use href="#x" x="703" y="538"/>
<use href="#x" x="705" y="539"/>
<use href="#x" x="700" y="541"/>
<use href="#x" x="702" y="543"/>
<use href="#x" x="695" y="545"/>
<use href="#x" x="694" y="549"/>
<use href="#x" x="701" y="547"/>
<use href="#x" x="704" y="547"/>
<use href="#x" x="706" y="549"/>
<use href="#x" x="703" y="550"/>
<use href="#x" x="707" y="552"/>
<use href="#x" x="705" y="554"/>
<use href="#x" x="717" y="556"/>
<use href="#x" x="698" y="559"/>
<use href="#x" x="706" y="559"/>
<use href="#x" x="709" y="559"/>
<use href="#x" x="710" y="563"/>
<use href="#x" x="713" y="565"/>
<use href="#x" x="707" y="569"/>
<use href="#x" x="710" y="569"/>
<use href="#x" x="720" y="570"/>
<use href="#x" x="728" y="572"/>
<use href="#x" x="711" y="574"/>
<use href="#x" x="712" y="578"/>
<use href="#x" x="728" y="579"/>
<use href="#x" x="708" y="590"/>
<use href="#x" x="709" y="592"/>
<use href="#x" x="712" y="594"/>
<use href="#x" x="715" y="592"/>
<use href="#x" x="718" y="594"/>
<use href="#x" x="720" y="592"/>
<use href="#x" x="711" y="599"/>
<use href="#x" x="714" y="601"/>
<use href="#x" x="718" y="599"/>
<use href="#x" x="721" y="601"/>
<use href="#x" x="710" y="610"/>
<use href="#x" x="717" y="614"/>
<use href="#x" x="722" y="610"/>
<use href="#x" x="720" y="616"/>
<use href="#x" x="723" y="614"/>
<use href="#x" x="718" y="617"/>
<use href="#x" x="726" y="617"/>
<use href="#x" x="721" y="625"/>
<use href="#x" x="723" y="630"/>
<use href="#x" x="715" y="636"/>
<use href="#x" x="709" y="643"/>
<use href="#x" x="714" y="652"/>
<use href="#x" x="714" y="663"/>
<use href="#x" x="725" y="650"/>
<use href="#x" x="728" y="650"/>
<use href="#x" x="729" y="652"/>
<use href="#x" x="731" y="657"/>
<use href="#x" x="730" y="668"/>
<use href="#x" x="745" y="628"/>
<use href="#x" x="748" y="632"/>
<use href="#x" x="745" y="641"/>
<use href="#x" x="765" y="636"/>
<use href="#x" x="742" y="648"/>
<use href="#x" x="748" y="648"/>
<use href="#x" x="739" y="654"/>
<use href="#x" x="743" y="656"/>
<use href="#x" x="746" y="656"/>
<use href="#x" x="753" y="657"/>
<use href="#x" x="749" y="661"/>
<use href="#x" x="738" y="665"/>
<use href="#x" x="735" y="670"/>
<use href="#x" x="758" y="663"/>
<use href="#x" x="761" y="665"/>
<use href="#x" x="767" y="663"/>
<use href="#x" x="769" y="665"/>
<use href="#x" x="756" y="668"/>
<use href="#x" x="765" y="668"/>
<use href="#x" x="770" y="668"/>
<use href="#x" x="774" y="670"/>
<use href="#x" x="792" y="659"/>
<use href="#x" x="736" y="672"/>
<use href="#x" x="739" y="674"/>
<use href="#x" x="742" y="676"/>
<use href="#x" x="737" y="676"/>
<use href="#x" x="732" y="676"/>
<use href="#x" x="734" y="681"/>
<use href="#x" x="737" y="683"/>
<use href="#x" x="732" y="683"/>
<use href="#x" x="743" y="677"/>
<use href="#x" x="745" y="681"/>
<use href="#x" x="748" y="677"/>
<use href="#x" x="750" y="677"/>
<use href="#x" x="753" y="676"/>
<use href="#x" x="751" y="690"/>
<use href="#x" x="753" y="694"/>
<use href="#x" x="750" y="694"/>
<use href="#x" x="754" y="697"/>
<use href="#x" x="751" y="699"/>
<use href="#x" x="732" y="694"/>
<use href="#x" x="733" y="697"/>
<use href="#x" x="735" y="703"/>
<use href="#x" x="732" y="706"/>
<use href="#x" x="724" y="703"/>
<use href="#x" x="734" y="705"/>
<use href="#x" x="757" y="677"/>
<use href="#x" x="760" y="679"/>
<use href="#x" x="762" y="681"/>
<use href="#x" x="765" y="683"/>
<use href="#x" x="761" y="686"/>
<use href="#x" x="768" y="686"/>
<use href="#x" x="765" y="690"/>
<use href="#x" x="770" y="688"/>
<use href="#x" x="769" y="692"/>
<use href="#x" x="773" y="690"/>
<use href="#x" x="763" y="694"/>
<use href="#x" x="761" y="697"/>
<use href="#x" x="767" y="699"/>
<use href="#x" x="770" y="695"/>
<use href="#x" x="774" y="694"/>
<use href="#x" x="775" y="699"/>
<use href="#x" x="773" y="701"/>
<use href="#x" x="778" y="686"/>
<use href="#x" x="780" y="690"/>
<use href="#x" x="779" y="694"/>
<use href="#x" x="782" y="692"/>
<use href="#x" x="781" y="695"/>
<use href="#x" x="785" y="694"/>
<use href="#x" x="784" y="699"/>
<use href="#x" x="787" y="697"/>
<use href="#x" x="782" y="703"/>
<use href="#x" x="780" y="705"/>
<use href="#x" x="786" y="701"/>
<use href="#x" x="790" y="699"/>
<use href="#x" x="788" y="703"/>
<use href="#x" x="785" y="706"/>
<use href="#x" x="793" y="703"/>
<use href="#x" x="792" y="706"/>
<use href="#x" x="795" y="705"/>
<use href="#x" x="787" y="708"/>
<use href="#x" x="794" y="708"/>
<use href="#x" x="798" y="703"/>
<use href="#x" x="800" y="705"/>
<use href="#x" x="796" y="706"/>
<use href="#x" x="803" y="703"/>
<use href="#x" x="805" y="699"/>
<use href="#x" x="807" y="699"/>
<use href="#x" x="810" y="701"/>
<use href="#x" x="812" y="699"/>
<use href="#x" x="806" y="703"/>
<use href="#x" x="809" y="705"/>
<use href="#x" x="811" y="703"/>
<use href="#x" x="813" y="705"/>
<use href="#x" x="804" y="706"/>
<use href="#x" x="807" y="706"/>
<use href="#x" x="811" y="708"/>
<use href="#x" x="814" y="706"/>
<use href="#x" x="809" y="710"/>
<use href="#x" x="805" y="710"/>
<use href="#x" x="775" y="672"/>
<use href="#x" x="778" y="676"/>
<use href="#x" x="780" y="674"/>
<use href="#x" x="785" y="677"/>
<use href="#x" x="787" y="674"/>
<use href="#x" x="790" y="679"/>
<use href="#x" x="793" y="677"/>
<use href="#x" x="795" y="683"/>
<use href="#x" x="798" y="674"/>
<use href="#x" x="800" y="686"/>
<use href="#x" x="803" y="690"/>
<use href="#x" x="805" y="692"/>
<use href="#x" x="798" y="694"/>
<use href="#x" x="801" y="695"/>
<use href="#x" x="812" y="683"/>
<use href="#x" x="815" y="686"/>
<use href="#x" x="807" y="683"/>
<use href="#x" x="774" y="681"/>
<use href="#x" x="778" y="683"/>
<use href="#x" x="782" y="683"/>
<use href="#x" x="787" y="686"/>
<use href="#x" x="793" y="688"/>
<use href="#x" x="795" y="692"/>
<use href="#x" x="771" y="677"/>
<use href="#x" x="769" y="681"/>
<use href="#x" x="737" y="670"/>
<use href="#x" x="738" y="674"/>
<use href="#x" x="740" y="672"/>
<use href="#x" x="743" y="674"/>
<use href="#x" x="744" y="676"/>
<use href="#x" x="740" y="677"/>
<use href="#x" x="738" y="677"/>
<use href="#x" x="735" y="676"/>
<use href="#x" x="742" y="670"/>
<use href="#x" x="745" y="672"/>
<use href="#x" x="746" y="674"/>
<use href="#x" x="749" y="676"/>
<use href="#x" x="731" y="677"/>
<use href="#x" x="730" y="679"/>
<use href="#x" x="751" y="692"/>
<use href="#x" x="752" y="694"/>
<use href="#x" x="753" y="695"/>
<use href="#x" x="776" y="57"/>
<use href="#x" x="779" y="61"/>
<use href="#x" x="778" y="62"/>
<use href="#x" x="786" y="62"/>
<use href="#x" x="784" y="82"/>
<use href="#x" x="793" y="113"/>
<use href="#x" x="799" y="57"/>
<use href="#x" x="801" y="59"/>
<use href="#x" x="804" y="57"/>
<use href="#x" x="806" y="59"/>
<use href="#x" x="801" y="61"/>
<use href="#x" x="798" y="64"/>
<use href="#x" x="803" y="64"/>
<use href="#x" x="806" y="62"/>
<use href="#x" x="809" y="61"/>
<use href="#x" x="811" y="61"/>
<use href="#x" x="813" y="59"/>
<use href="#x" x="796" y="66"/>
<use href="#x" x="799" y="68"/>
<use href="#x" x="810" y="64"/>
<use href="#x" x="815" y="64"/>
<use href="#x" x="818" y="62"/>
<use href="#x" x="820" y="66"/>
<use href="#x" x="823" y="62"/>
<use href="#x" x="818" y="68"/>
<use href="#x" x="821" y="72"/>
<use href="#x" x="824" y="68"/>
<use href="#x" x="817" y="72"/>
<use href="#x" x="820" y="73"/>
<use href="#x" x="823" y="75"/>
<use href="#x" x="826" y="73"/>
<use href="#x" x="829" y="72"/>
<use href="#x" x="834" y="64"/>
<use href="#x" x="835" y="66"/>
<use href="#x" x="831" y="68"/>
<use href="#x" x="828" y="77"/>
<use href="#x" x="826" y="79"/>
<use href="#x" x="829" y="79"/>
<use href="#x" x="830" y="82"/>
<use href="#x" x="832" y="75"/>
<use href="#x" x="835" y="75"/>
<use href="#x" x="824" y="84"/>
<use href="#x" x="821" y="88"/>
<use href="#x" x="820" y="93"/>
<use href="#x" x="858" y="72"/>
<use href="#x" x="860" y="99"/>
<use href="#x" x="859" y="102"/>
<use href="#x" x="860" y="106"/>
<use href="#x" x="860" y="110"/>
<use href="#x" x="888" y="108"/>
<use href="#x" x="876" y="209"/>
<use href="#x" x="874" y="213"/>
<use href="#x" x="871" y="215"/>
<use href="#x" x="870" y="217"/>
<use href="#x" x="894" y="218"/>
<use href="#x" x="895" y="220"/>
<use href="#x" x="873" y="222"/>
<use href="#x" x="874" y="226"/>
<use href="#x" x="894" y="229"/>
<use href="#x" x="873" y="233"/>
<use href="#x" x="871" y="235"/>
<use href="#x" x="868" y="247"/>
<use href="#x" x="869" y="251"/>
<use href="#x" x="870" y="240"/>
<use href="#x" x="845" y="565"/>
<use href="#x" x="838" y="570"/>
<use href="#x" x="845" y="576"/>
<use href="#x" x="843" y="579"/>
<use href="#x" x="845" y="590"/>
<use href="#x" x="848" y="592"/>
<use href="#x" x="849" y="594"/>
<use href="#x" x="850" y="596"/>
<use href="#x" x="843" y="608"/>
<use href="#x" x="845" y="607"/>
<use href="#x" x="848" y="605"/>
<use href="#x" x="851" y="610"/>
<use href="#x" x="842" y="621"/>
<use href="#x" x="818" y="677"/>
<use href="#x" x="820" y="677"/>
<use href="#x" x="817" y="694"/>
<use href="#x" x="819" y="697"/>
<use href="#x" x="823" y="695"/>
<use href="#x" x="825" y="701"/>
<use href="#x" x="828" y="706"/>
<use href="#x" x="830" y="705"/>
<use href="#x" x="832" y="706"/>
<use href="#x" x="824" y="706"/>
<use href="#x" x="826" y="690"/>
<use href="#x" x="821" y="688"/>
<use href="#x" x="831" y="697"/>
<use href="#x" x="829" y="694"/>
<use href="#x" x="834" y="681"/>
<use href="#x" x="838" y="679"/>
<use href="#x" x="835" y="685"/>
<use href="#x" x="832" y="690"/>
<use href="#x" x="837" y="694"/>
<use href="#x" x="842" y="685"/>
<use href="#x" x="817" y="705"/>
<use href="#x" x="818" y="708"/>
<use href="#x" x="835" y="701"/>
<use href="#x" x="840" y="639"/>
<use href="#x" x="849" y="636"/>
<use href="#x" x="856" y="639"/>
<use href="#x" x="837" y="648"/>
<use href="#x" x="838" y="650"/>
<use href="#x" x="854" y="648"/>
<use href="#x" x="837" y="657"/>
<use href="#x" x="843" y="659"/>
<use href="#x" x="854" y="657"/>
<use href="#x" x="855" y="657"/>
<use href="#x" x="856" y="656"/>
<use href="#x" x="857" y="670"/>
<use href="#x" x="854" y="672"/>
<use href="#x" x="851" y="674"/>
<use href="#x" x="850" y="679"/>
<use href="#x" x="849" y="685"/>
<use href="#x" x="856" y="683"/>
<use href="#x" x="855" y="690"/>
<use href="#x" x="231" y="146"/>
<use href="#x" x="250" y="146"/>
<use href="#x" x="237" y="151"/>
<use href="#x" x="249" y="155"/>
<use href="#x" x="239" y="160"/>
<use href="#x" x="204" y="157"/>
<use href="#x" x="216" y="155"/>
<use href="#x" x="203" y="164"/>
<use href="#x" x="206" y="166"/>
<use href="#x" x="209" y="166"/>
<use href="#x" x="212" y="164"/>
<use href="#x" x="203" y="171"/>
<use href="#x" x="215" y="173"/>
<use href="#x" x="204" y="188"/>
<use href="#x" x="211" y="188"/>
<use href="#x" x="213" y="188"/>
<use href="#x" x="215" y="186"/>
<use href="#x" x="220" y="186"/>
<use href="#x" x="212" y="191"/>
<use href="#x" x="214" y="191"/>
<use href="#x" x="214" y="198"/>
<use href="#x" x="213" y="198"/>
<use href="#x" x="201" y="200"/>
<use href="#x" x="214" y="208"/>
<use href="#x" x="196" y="211"/>
<use href="#x" x="237" y="171"/>
<use href="#x" x="239" y="173"/>
<use href="#x" x="241" y="169"/>
<use href="#x" x="243" y="171"/>
<use href="#x" x="240" y="175"/>
<use href="#x" x="248" y="168"/>
<use href="#x" x="251" y="177"/>
<use href="#x" x="232" y="182"/>
<use href="#x" x="243" y="184"/>
<use href="#x" x="246" y="188"/>
<use href="#x" x="250" y="186"/>
<use href="#x" x="253" y="188"/>
<use href="#x" x="232" y="193"/>
<use href="#x" x="231" y="195"/>
<use href="#x" x="234" y="193"/>
<use href="#x" x="232" y="197"/>
<use href="#x" x="243" y="191"/>
<use href="#x" x="245" y="193"/>
<use href="#x" x="248" y="193"/>
<use href="#x" x="250" y="191"/>
<use href="#x" x="252" y="193"/>
<use href="#x" x="245" y="197"/>
<use href="#x" x="243" y="198"/>
<use href="#x" x="251" y="198"/>
<use href="#x" x="254" y="197"/>
<use href="#x" x="246" y="202"/>
<use href="#x" x="252" y="204"/>
<use href="#x" x="236" y="206"/>
<use href="#x" x="240" y="202"/>
<use href="#x" x="234" y="217"/>
<use href="#x" x="254" y="213"/>
<use href="#x" x="256" y="215"/>
<use href="#x" x="229" y="226"/>
<use href="#x" x="229" y="231"/>
<use href="#x" x="229" y="229"/>
<use href="#x" x="262" y="189"/>
<use href="#x" x="264" y="191"/>
<use href="#x" x="266" y="193"/>
<use href="#x" x="267" y="191"/>
<use href="#x" x="265" y="195"/>
<use href="#x" x="268" y="197"/>
<use href="#x" x="263" y="200"/>
<use href="#x" x="265" y="202"/>
<use href="#x" x="267" y="200"/>
<use href="#x" x="264" y="204"/>
<use href="#x" x="265" y="204"/>
<use href="#x" x="269" y="160"/>
<use href="#x" x="279" y="157"/>
<use href="#x" x="275" y="150"/>
<use href="#x" x="276" y="151"/>
<use href="#x" x="273" y="148"/>
<use href="#x" x="270" y="144"/>
<use href="#x" x="292" y="150"/>
<use href="#x" x="299" y="146"/>
<use href="#x" x="301" y="144"/>
<use href="#x" x="270" y="173"/>
<use href="#x" x="273" y="173"/>
<use href="#x" x="276" y="175"/>
<use href="#x" x="268" y="179"/>
<use href="#x" x="286" y="169"/>
<use href="#x" x="293" y="169"/>
<use href="#x" x="302" y="164"/>
<use href="#x" x="278" y="180"/>
<use href="#x" x="281" y="180"/>
<use href="#x" x="283" y="179"/>
<use href="#x" x="285" y="180"/>
<use href="#x" x="277" y="184"/>
<use href="#x" x="279" y="186"/>
<use href="#x" x="281" y="188"/>
<use href="#x" x="282" y="184"/>
<use href="#x" x="284" y="184"/>
<use href="#x" x="279" y="191"/>
<use href="#x" x="285" y="189"/>
<use href="#x" x="289" y="189"/>
<use href="#x" x="290" y="191"/>
<use href="#x" x="282" y="197"/>
<use href="#x" x="284" y="197"/>
<use href="#x" x="287" y="197"/>
<use href="#x" x="289" y="198"/>
<use href="#x" x="290" y="197"/>
<use href="#x" x="292" y="195"/>
<use href="#x" x="281" y="198"/>
<use href="#x" x="284" y="200"/>
<use href="#x" x="292" y="200"/>
<use href="#x" x="295" y="200"/>
<use href="#x" x="298" y="204"/>
<use href="#x" x="296" y="206"/>
<use href="#x" x="293" y="208"/>
<use href="#x" x="290" y="209"/>
<use href="#x" x="285" y="211"/>
<use href="#x" x="288" y="209"/>
<use href="#x" x="283" y="209"/>
<use href="#x" x="293" y="213"/>
<use href="#x" x="295" y="217"/>
<use href="#x" x="298" y="218"/>
<use href="#x" x="299" y="218"/>
<use href="#x" x="302" y="231"/>
<use href="#x" x="261" y="222"/>
<use href="#x" x="258" y="228"/>
<use href="#x" x="256" y="229"/>
<use href="#x" x="254" y="231"/>
<use href="#x" x="258" y="233"/>
<use href="#x" x="260" y="233"/>
<use href="#x" x="257" y="233"/>
<use href="#x" x="56" y="115"/>
<use href="#x" x="69" y="101"/>
<use href="#x" x="71" y="102"/>
<use href="#x" x="70" y="106"/>
<use href="#x" x="68" y="108"/>
<use href="#x" x="71" y="108"/>
<use href="#x" x="76" y="106"/>
<use href="#x" x="66" y="111"/>
<use href="#x" x="76" y="111"/>
<use href="#x" x="74" y="117"/>
<use href="#x" x="73" y="119"/>
<use href="#x" x="75" y="117"/>
<use href="#x" x="78" y="120"/>
<use href="#x" x="80" y="120"/>
<use href="#x" x="57" y="122"/>
<use href="#x" x="59" y="124"/>
<use href="#x" x="61" y="122"/>
<use href="#x" x="56" y="126"/>
<use href="#x" x="66" y="126"/>
<use href="#x" x="78" y="122"/>
<use href="#x" x="79" y="124"/>
<use href="#x" x="73" y="126"/>
<use href="#x" x="76" y="128"/>
<use href="#x" x="75" y="130"/>
<use href="#x" x="64" y="128"/>
<use href="#x" x="66" y="131"/>
<use href="#x" x="65" y="135"/>
<use href="#x" x="60" y="128"/>
<use href="#x" x="113" y="101"/>
<use href="#x" x="137" y="102"/>
<use href="#x" x="134" y="106"/>
<use href="#x" x="106" y="115"/>
<use href="#x" x="111" y="115"/>
<use href="#x" x="114" y="117"/>
<use href="#x" x="117" y="115"/>
<use href="#x" x="118" y="117"/>
<use href="#x" x="120" y="119"/>
<use href="#x" x="122" y="117"/>
<use href="#x" x="124" y="120"/>
<use href="#x" x="121" y="120"/>
<use href="#x" x="119" y="122"/>
<use href="#x" x="117" y="124"/>
<use href="#x" x="123" y="124"/>
<use href="#x" x="125" y="122"/>
<use href="#x" x="127" y="124"/>
<use href="#x" x="125" y="126"/>
<use href="#x" x="129" y="122"/>
<use href="#x" x="130" y="120"/>
<use href="#x" x="132" y="115"/>
<use href="#x" x="134" y="119"/>
<use href="#x" x="131" y="119"/>
<use href="#x" x="138" y="124"/>
<use href="#x" x="103" y="122"/>
<use href="#x" x="107" y="126"/>
<use href="#x" x="102" y="128"/>
<use href="#x" x="106" y="128"/>
<use href="#x" x="98" y="130"/>
<use href="#x" x="100" y="131"/>
<use href="#x" x="120" y="126"/>
<use href="#x" x="123" y="128"/>
<use href="#x" x="115" y="131"/>
<use href="#x" x="118" y="131"/>
<use href="#x" x="112" y="135"/>
<use href="#x" x="114" y="137"/>
<use href="#x" x="111" y="139"/>
<use href="#x" x="121" y="135"/>
<use href="#x" x="129" y="135"/>
<use href="#x" x="132" y="139"/>
<use href="#x" x="123" y="139"/>
<use href="#x" x="58" y="142"/>
<use href="#x" x="78" y="140"/>
<use href="#x" x="79" y="142"/>
<use href="#x" x="78" y="144"/>
<use href="#x" x="81" y="144"/>
<use href="#x" x="64" y="148"/>
<use href="#x" x="61" y="151"/>
<use href="#x" x="63" y="150"/>
<use href="#x" x="92" y="146"/>
<use href="#x" x="100" y="148"/>
<use href="#x" x="103" y="150"/>
<use href="#x" x="101" y="153"/>
<use href="#x" x="104" y="151"/>
<use href="#x" x="115" y="144"/>
<use href="#x" x="118" y="146"/>
<use href="#x" x="115" y="150"/>
<use href="#x" x="107" y="151"/>
<use href="#x" x="109" y="153"/>
<use href="#x" x="95" y="157"/>
<use href="#x" x="96" y="159"/>
<use href="#x" x="101" y="160"/>
<use href="#x" x="93" y="157"/>
<use href="#x" x="85" y="157"/>
<use href="#x" x="83" y="159"/>
<use href="#x" x="82" y="162"/>
<use href="#x" x="84" y="164"/>
<use href="#x" x="85" y="164"/>
<use href="#x" x="64" y="164"/>
<use href="#x" x="62" y="166"/>
<use href="#x" x="65" y="166"/>
<use href="#x" x="128" y="151"/>
<use href="#x" x="126" y="155"/>
<use href="#x" x="129" y="157"/>
<use href="#x" x="131" y="159"/>
<use href="#x" x="128" y="160"/>
<use href="#x" x="134" y="159"/>
<use href="#x" x="144" y="151"/>
<use href="#x" x="140" y="155"/>
<use href="#x" x="82" y="173"/>
<use href="#x" x="81" y="179"/>
<use href="#x" x="92" y="177"/>
<use href="#x" x="99" y="173"/>
<use href="#x" x="135" y="177"/>
<use href="#x" x="135" y="180"/>
<use href="#x" x="154" y="179"/>
<use href="#x" x="154" y="184"/>
<use href="#x" x="155" y="189"/>
<use href="#x" x="171" y="189"/>
<use href="#x" x="90" y="184"/>
<use href="#x" x="93" y="186"/>
<use href="#x" x="95" y="184"/>
<use href="#x" x="96" y="184"/>
<use href="#x" x="92" y="188"/>
<use href="#x" x="95" y="189"/>
<use href="#x" x="98" y="188"/>
<use href="#x" x="89" y="189"/>
<use href="#x" x="85" y="191"/>
<use href="#x" x="83" y="193"/>
<use href="#x" x="85" y="195"/>
<use href="#x" x="87" y="195"/>
<use href="#x" x="89" y="197"/>
<use href="#x" x="90" y="193"/>
<use href="#x" x="93" y="195"/>
<use href="#x" x="90" y="198"/>
<use href="#x" x="95" y="202"/>
<use href="#x" x="87" y="206"/>
<use href="#x" x="88" y="206"/>
<use href="#x" x="95" y="206"/>
<use href="#x" x="96" y="208"/>
<use href="#x" x="87" y="215"/>
<use href="#x" x="142" y="198"/>
<use href="#x" x="154" y="193"/>
<use href="#x" x="156" y="195"/>
<use href="#x" x="155" y="198"/>
<use href="#x" x="156" y="204"/>
<use href="#x" x="157" y="206"/>
<use href="#x" x="154" y="206"/>
<use href="#x" x="148" y="209"/>
<use href="#x" x="151" y="208"/>
<use href="#x" x="151" y="211"/>
<use href="#x" x="155" y="209"/>
<use href="#x" x="151" y="218"/>
<use href="#x" x="150" y="222"/>
<use href="#x" x="153" y="220"/>
<use href="#x" x="148" y="224"/>
<use href="#x" x="151" y="226"/>
<use href="#x" x="150" y="228"/>
<use href="#x" x="166" y="220"/>
<use href="#x" x="168" y="224"/>
<use href="#x" x="165" y="226"/>
<use href="#x" x="173" y="231"/>
<use href="#x" x="147" y="237"/>
<use href="#x" x="160" y="231"/>
<use href="#x" x="162" y="233"/>
<use href="#x" x="164" y="235"/>
<use href="#x" x="160" y="235"/>
<use href="#x" x="158" y="237"/>
<use href="#x" x="161" y="238"/>
<use href="#x" x="163" y="237"/>
<use href="#x" x="165" y="238"/>
<use href="#x" x="159" y="240"/>
<use href="#x" x="162" y="242"/>
<use href="#x" x="165" y="242"/>
<use href="#x" x="168" y="246"/>
<use href="#x" x="171" y="244"/>
<use href="#x" x="163" y="246"/>
<use href="#x" x="142" y="247"/>
<use href="#x" x="148" y="253"/>
<use href="#x" x="171" y="257"/>
<use href="#x" x="160" y="264"/>
<use href="#x" x="162" y="264"/>
<use href="#x" x="164" y="264"/>
<use href="#x" x="169" y="267"/>
<use href="#x" x="159" y="276"/>
<use href="#x" x="167" y="278"/>
<use href="#x" x="168" y="284"/>
<use href="#x" x="206" y="72"/>
<use href="#x" x="207" y="79"/>
<use href="#x" x="207" y="84"/>
<use href="#x" x="209" y="95"/>
<use href="#x" x="209" y="101"/>
<use href="#x" x="217" y="95"/>
<use href="#x" x="218" y="101"/>
<use href="#x" x="208" y="108"/>
<use href="#x" x="210" y="113"/>
<use href="#x" x="218" y="110"/>
<use href="#x" x="218" y="113"/>
<use href="#x" x="220" y="115"/>
<use href="#x" x="219" y="119"/>
<use href="#x" x="217" y="115"/>
<use href="#x" x="238" y="97"/>
<use href="#x" x="231" y="113"/>
<use href="#x" x="182" y="122"/>
<use href="#x" x="205" y="124"/>
<use href="#x" x="210" y="133"/>
<use href="#x" x="230" y="130"/>
<use href="#x" x="239" y="124"/>
<use href="#x" x="241" y="135"/>
<use href="#x" x="268" y="91"/>
<use href="#x" x="271" y="115"/>
<use href="#x" x="271" y="119"/>
<use href="#x" x="271" y="122"/>
<use href="#x" x="271" y="124"/>
<use href="#x" x="273" y="128"/>
<use href="#x" x="273" y="130"/>
<use href="#x" x="274" y="133"/>
<use href="#x" x="276" y="137"/>
<use href="#x" x="270" y="140"/>
<use href="#x" x="278" y="140"/>
<use href="#x" x="293" y="117"/>
<use href="#x" x="293" y="135"/>
<use href="#x" x="299" y="79"/>
<use href="#x" x="300" y="97"/>
<use href="#x" x="303" y="97"/>
<use href="#x" x="303" y="130"/>
<use href="#x" x="231" y="142"/>
<use href="#x" x="250" y="142"/>
<use href="#x" x="301" y="140"/>
<use href="#x" x="860" y="113"/>
<use href="#x" x="859" y="124"/>
<use href="#x" x="889" y="122"/>
<use href="#x" x="898" y="120"/>
<use href="#x" x="906" y="120"/>
<use href="#x" x="899" y="124"/>
<use href="#x" x="903" y="126"/>
<use href="#x" x="906" y="124"/>
<use href="#x" x="904" y="130"/>
<use href="#x" x="907" y="130"/>
<use href="#x" x="909" y="131"/>
<use href="#x" x="913" y="130"/>
<use href="#x" x="907" y="135"/>
<use href="#x" x="910" y="137"/>
<use href="#x" x="904" y="135"/>
<use href="#x" x="880" y="131"/>
<use href="#x" x="880" y="139"/>
<use href="#x" x="920" y="124"/>
<use href="#x" x="922" y="122"/>
<use href="#x" x="924" y="122"/>
<use href="#x" x="923" y="128"/>
<use href="#x" x="926" y="126"/>
<use href="#x" x="928" y="124"/>
<use href="#x" x="930" y="126"/>
<use href="#x" x="924" y="131"/>
<use href="#x" x="927" y="130"/>
<use href="#x" x="929" y="131"/>
<use href="#x" x="931" y="130"/>
<use href="#x" x="928" y="135"/>
<use href="#x" x="931" y="135"/>
<use href="#x" x="932" y="133"/>
<use href="#x" x="932" y="115"/>
<use href="#x" x="932" y="139"/>
<use href="#x" x="881" y="142"/>
<use href="#x" x="888" y="144"/>
<use href="#x" x="890" y="148"/>
<use href="#x" x="898" y="144"/>
<use href="#x" x="901" y="144"/>
<use href="#x" x="902" y="148"/>
<use href="#x" x="899" y="150"/>
<use href="#x" x="901" y="153"/>
<use href="#x" x="903" y="157"/>
<use href="#x" x="904" y="159"/>
<use href="#x" x="909" y="142"/>
<use href="#x" x="919" y="150"/>
<use href="#x" x="921" y="150"/>
<use href="#x" x="917" y="153"/>
<use href="#x" x="920" y="155"/>
<use href="#x" x="927" y="142"/>
<use href="#x" x="928" y="157"/>
<use href="#x" x="923" y="153"/>
<use href="#x" x="863" y="148"/>
<use href="#x" x="863" y="153"/>
<use href="#x" x="865" y="155"/>
<use href="#x" x="862" y="157"/>
<use href="#x" x="864" y="160"/>
<use href="#x" x="865" y="164"/>
<use href="#x" x="867" y="169"/>
<use href="#x" x="862" y="179"/>
<use href="#x" x="867" y="186"/>
<use href="#x" x="879" y="162"/>
<use href="#x" x="881" y="162"/>
<use href="#x" x="878" y="164"/>
<use href="#x" x="882" y="168"/>
<use href="#x" x="888" y="173"/>
<use href="#x" x="892" y="173"/>
<use href="#x" x="895" y="175"/>
<use href="#x" x="887" y="177"/>
<use href="#x" x="896" y="175"/>
<use href="#x" x="899" y="169"/>
<use href="#x" x="902" y="166"/>
<use href="#x" x="904" y="168"/>
<use href="#x" x="909" y="168"/>
<use href="#x" x="907" y="169"/>
<use href="#x" x="912" y="171"/>
<use href="#x" x="913" y="168"/>
<use href="#x" x="918" y="169"/>
<use href="#x" x="920" y="168"/>
<use href="#x" x="929" y="173"/>
<use href="#x" x="930" y="175"/>
<use href="#x" x="912" y="186"/>
<use href="#x" x="909" y="188"/>
<use href="#x" x="914" y="188"/>
<use href="#x" x="916" y="186"/>
<use href="#x" x="912" y="189"/>
<use href="#x" x="915" y="197"/>
<use href="#x" x="913" y="202"/>
<use href="#x" x="888" y="184"/>
<use href="#x" x="878" y="189"/>
<use href="#x" x="881" y="191"/>
<use href="#x" x="883" y="193"/>
<use href="#x" x="885" y="195"/>
<use href="#x" x="892" y="193"/>
<use href="#x" x="894" y="195"/>
<use href="#x" x="896" y="191"/>
<use href="#x" x="873" y="198"/>
<use href="#x" x="871" y="200"/>
<use href="#x" x="882" y="198"/>
<use href="#x" x="884" y="198"/>
<use href="#x" x="888" y="198"/>
<use href="#x" x="895" y="202"/>
<use href="#x" x="869" y="204"/>
<use href="#x" x="892" y="204"/>
<use href="#x" x="881" y="204"/>
</g>
<g stroke="#000" stroke-width="1" fill="none" shape-rendering="crispEdges">
<rect x="55.5" y="57.5" width="878.0" height="653.0"/>
<line x1="55.5" y1="628.5" x2="933.5" y2="628.5"/>
<line x1="55.5" y1="465.5" x2="933.5" y2="465.5"/>
<line x1="55.5" y1="302.5" x2="933.5" y2="302.5"/>
<line x1="55.5" y1="139.5" x2="933.5" y2="139.5"/>
<line x1="55.5" y1="710.5" x2="55.5" y2="703.0"/>
<line x1="55.5" y1="57.5" x2="55.5" y2="65.0"/>
<line x1="92.5" y1="710.5" x2="92.5" y2="707.0"/>
<line x1="92.5" y1="57.5" x2="92.5" y2="61.0"/>
<line x1="128.5" y1="710.5" x2="128.5" y2="703.0"/>
<line x1="128.5" y1="57.5" x2="128.5" y2="65.0"/>
<line x1="165.5" y1="710.5" x2="165.5" y2="707.0"/>
<line x1="165.5" y1="57.5" x2="165.5" y2="61.0"/>
<line x1="201.5" y1="710.5" x2="201.5" y2="703.0"/>
<line x1="201.5" y1="57.5" x2="201.5" y2="65.0"/>
<line x1="238.5" y1="710.5" x2="238.5" y2="707.0"/>
<line x1="238.5" y1="57.5" x2="238.5" y2="61.0"/>
<line x1="274.5" y1="710.5" x2="274.5" y2="703.0"/>
<line x1="274.5" y1="57.5" x2="274.5" y2="65.0"/>
<line x1="311.5" y1="710.5" x2="311.5" y2="707.0"/>
<line x1="311.5" y1="57.5" x2="311.5" y2="61.0"/>
<line x1="348.5" y1="710.5" x2="348.5" y2="703.0"/>
<line x1="348.5" y1="57.5" x2="348.5" y2="65.0"/>
<line x1="384.5" y1="710.5" x2="384.5" y2="707.0"/>
<line x1="384.5" y1="57.5" x2="384.5" y2="61.0"/>
<line x1="421.5" y1="710.5" x2="421.5" y2="703.0"/>
<line x1="421.5" y1="57.5" x2="421.5" y2="65.0"/>
<line x1="457.5" y1="710.5" x2="457.5" y2="707.0"/>
<line x1="457.5" y1="57.5" x2="457.5" y2="61.0"/>
<line x1="494.5" y1="710.5" x2="494.5" y2="703.0"/>
<line x1="494.5" y1="57.5" x2="494.5" y2="65.0"/>
<line x1="531.5" y1="710.5" x2="531.5" y2="707.0"/>
<line x1="531.5" y1="57.5" x2="531.5" y2="61.0"/>
<line x1="567.5" y1="710.5" x2="567.5" y2="703.0"/>
<line x1="567.5" y1="57.5" x2="567.5" y2="65.0"/>
<line x1="604.5" y1="710.5" x2="604.5" y2="707.0"/>
<line x1="604.5" y1="57.5" x2="604.5" y2="61.0"/>
<line x1="640.5" y1="710.5" x2="640.5" y2="703.0"/>
<line x1="640.5" y1="57.5" x2="640.5" y2="65.0"/>
<line x1="677.5" y1="710.5" x2="677.5" y2="707.0"/>
<line x1="677.5" y1="57.5" x2="677.5" y2="61.0"/>
<line x1="714.5" y1="710.5" x2="714.5" y2="703.0"/>
<line x1="714.5" y1="57.5" x2="714.5" y2="65.0"/>
<line x1="750.5" y1="710.5" x2="750.5" y2="707.0"/>
<line x1="750.5" y1="57.5" x2="750.5" y2="61.0"/>
<line x1="787.5" y1="710.5" x2="787.5" y2="703.0"/>
<line x1="787.5" y1="57.5" x2="787.5" y2="65.0"/>
<line x1="823.5" y1="710.5" x2="823.5" y2="707.0"/>
<line x1="823.5" y1="57.5" x2="823.5" y2="61.0"/>
<line x1="860.5" y1="710.5" x2="860.5" y2="703.0"/>
<line x1="860.5" y1="57.5" x2="860.5" y2="65.0"/>
<line x1="896.5" y1="710.5" x2="896.5" y2="707.0"/>
<line x1="896.5" y1="57.5" x2="896.5" y2="61.0"/>
<line x1="933.5" y1="710.5" x2="933.5" y2="703.0"/>
<line x1="933.5" y1="57.5" x2="933.5" y2="65.0"/>
<line x1="55.5" y1="601.5" x2="63.0" y2="601.5"/>
<line x1="55.5" y1="492.5" x2="63.0" y2="492.5"/>
<line x1="55.5" y1="383.5" x2="63.0" y2="383.5"/>
<line x1="55.5" y1="275.5" x2="63.0" y2="275.5"/>
<line x1="55.5" y1="166.5" x2="63.0" y2="166.5"/>
<line x1="925.5" y1="547.5" x2="933.5" y2="547.5"/>
<line x1="925.5" y1="383.5" x2="933.5" y2="383.5"/>
<line x1="925.5" y1="220.5" x2="933.5" y2="220.5"/>
</g>
<g font-family="Liberation Sans, sans-serif" font-size="16" fill="#000">
<text x="492.5" y="32.0" text-anchor="middle">260322.dat</text>
<text x="41.5" y="715.0" text-anchor="end">0</text>
<text x="41.5" y="606.0" text-anchor="end">5</text>
<text x="41.5" y="497.0" text-anchor="end">10</text>
<text x="41.5" y="388.0" text-anchor="end">15</text>
<text x="41.5" y="280.0" text-anchor="end">20</text>
<text x="41.5" y="171.0" text-anchor="end">25</text>
<text x="41.5" y="62.0" text-anchor="end">30</text>
<text x="947.0" y="715.0" text-anchor="start">0</text>
<text x="947.0" y="633.0" text-anchor="start">45</text>
<text x="947.0" y="552.0" text-anchor="start">90</text>
<text x="947.0" y="470.0" text-anchor="start">135</text>
<text x="947.0" y="388.0" text-anchor="start">180</text>
<text x="947.0" y="307.0" text-anchor="start">225</text>
<text x="947.0" y="225.0" text-anchor="start">270</text>
<text x="947.0" y="144.0" text-anchor="start">315</text>
<text x="947.0" y="62.0" text-anchor="start">360</text>
<text x="52.9" y="734.0" text-anchor="middle">22/03</text>
<text x="52.9" y="753.0" text-anchor="middle">00:00</text>
<text x="126.1" y="734.0" text-anchor="middle">22/03</text>
<text x="126.1" y="753.0" text-anchor="middle">02:00</text>
<text x="199.2" y="734.0" text-anchor="middle">22/03</text>
<text x="199.2" y="753.0" text-anchor="middle">04:00</text>
<text x="272.4" y="734.0" text-anchor="middle">22/03</text>
<text x="272.4" y="753.0" text-anchor="middle">06:00</text>
<text x="345.6" y="734.0" text-anchor="middle">22/03</text>
<text x="345.6" y="753.0" text-anchor="middle">08:00</text>
<text x="418.7" y="734.0" text-anchor="middle">22/03</text>
<text x="418.7" y="753.0" text-anchor="middle">10:00</text>
<text x="491.9" y="734.0" text-anchor="middle">22/03</text>
<text x="491.9" y="753.0" text-anchor="middle">12:00</text>
<text x="565.1" y="734.0" text-anchor="middle">22/03</text>
<text x="565.1" y="753.0" text-anchor="middle">14:00</text>
<text x="638.2" y="734.0" text-anchor="middle">22/03</text>
<text x="638.2" y="753.0" text-anchor="middle">16:00</text>
<text x="711.4" y="734.0" text-anchor="middle">22/03</text>
<text x="711.4" y="753.0" text-anchor="middle">18:00</text>
<text x="784.6" y="734.0" text-anchor="middle">22/03</text>
<text x="784.6" y="753.0" text-anchor="middle">20:00</text>
<text x="857.7" y="734.0" text-anchor="middle">22/03</text>
<text x="857.7" y="753.0" text-anchor="middle">22:00</text>
<text x="930.9" y="734.0" text-anchor="middle">23/03</text>
<text x="930.9" y="753.0" text-anchor="middle">00:00</text>
<text x="362.0" y="74.0" text-anchor="start">Minimum = 0.2 m/s</text>
<text x="537.5" y="74.0" text-anchor="start">Maximum = 5.717 m/s</text>
<text x="926.0" y="107.0" text-anchor="end">N</text>
<text x="927.0" y="224.0" text-anchor="end">O</text>
<text x="925.5" y="387.0" text-anchor="end">S</text>
<text x="925.5" y="551.0" text-anchor="end">E</text>
<text x="926.0" y="668.0" text-anchor="end">N</text>
</g>
<line x1="866" y1="74.5" x2="914" y2="74.5" stroke="#9400D3" stroke-width="1"/>
<path d="M886.5 90.5l6 6m0 -6l-6 6" stroke="#009E73" stroke-width="1" fill="none"/>
</svg>
</body></html>
